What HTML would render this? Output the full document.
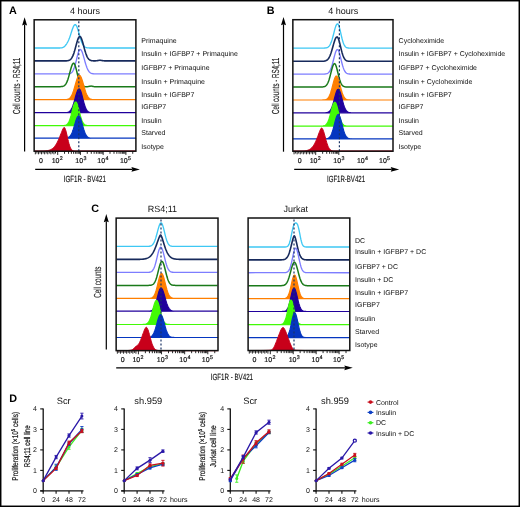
<!DOCTYPE html>
<html><head><meta charset="utf-8"><style>
html,body{margin:0;padding:0;background:#fff;}
body{width:520px;height:507px;overflow:hidden;font-family:"Liberation Sans", sans-serif;}
svg{display:block;}
</style></head><body>
<svg width="520" height="507" viewBox="0 0 520 507" style="will-change:transform" text-rendering="geometricPrecision" font-family='"Liberation Sans", sans-serif'>
<rect x="0" y="0" width="520" height="507" fill="#fff"/>
<text x="9" y="13.7" font-size="10.8" text-anchor="start" font-weight="bold" fill="#000" >A</text>
<text x="266.8" y="13.8" font-size="10.8" text-anchor="start" font-weight="bold" fill="#000" >B</text>
<text x="91.3" y="212" font-size="10.8" text-anchor="start" font-weight="bold" fill="#000" >C</text>
<text x="9.2" y="402" font-size="10.8" text-anchor="start" font-weight="bold" fill="#000" >D</text>
<text x="85" y="13.5" font-size="9" text-anchor="middle" font-weight="normal" fill="#111" >4 hours</text>
<line x1="24.6" y1="24.5" x2="24.6" y2="151.5" stroke="#000" stroke-width="1.2"/>
<path d="M24.6 17.2 L27.1 25.5 L24.6 24.5 L22.1 25.5 Z" fill="#000"/>
<line x1="35.2" y1="169.4" x2="132.4" y2="169.4" stroke="#000" stroke-width="1.2"/>
<path d="M139.9 169.4 L131.4 167 L132.4 169.4 L131.4 171.8 Z" fill="#000"/>
<text x="0" y="0" font-size="10.2" font-weight="normal" text-anchor="middle" fill="#111" stroke="#111" stroke-width="0.1" transform="translate(19.7 86) rotate(-90) scale(0.6057 1)">Cell counts - RS4;11</text>
<text x="0" y="0" font-size="9.0" font-weight="normal" text-anchor="middle" fill="#111" stroke="#111" stroke-width="0.15" transform="translate(84.8 181.8) scale(0.6859 1)">IGF1R - BV421</text>
<path d="M34.45 48 L58.95 47.98 L59.45 47.97 L59.95 47.96 L60.45 47.94 L60.95 47.9 L61.45 47.85 L61.95 47.76 L62.45 47.64 L62.95 47.47 L63.45 47.23 L63.95 46.91 L64.45 46.5 L64.95 46.01 L65.45 45.42 L65.95 44.77 L66.45 44.04 L66.95 43.25 L67.45 42.4 L67.95 41.47 L68.45 40.45 L68.95 39.32 L69.45 38.06 L69.95 36.68 L70.45 35.2 L70.95 33.63 L71.45 32.04 L71.95 30.48 L72.45 28.99 L72.95 27.65 L73.45 26.5 L73.95 25.59 L74.45 24.96 L74.95 24.64 L75.45 24.65 L75.95 25.03 L76.45 25.77 L76.95 26.83 L77.45 28.18 L77.95 29.73 L78.45 31.44 L78.95 33.24 L79.45 35.05 L79.95 36.83 L80.45 38.51 L80.95 40.08 L81.45 41.49 L81.95 42.74 L82.45 43.82 L82.95 44.73 L83.45 45.48 L83.95 46.09 L84.45 46.58 L84.95 46.96 L85.45 47.25 L85.95 47.47 L86.45 47.63 L86.95 47.75 L87.45 47.83 L87.95 47.89 L88.45 47.93 L88.95 47.95 L89.45 47.97 L89.95 47.98 L135.45 48" fill="none" stroke="#3ec8f4" stroke-width="1.35" stroke-linejoin="round"/>
<path d="M34.45 60.9 L64.95 60.88 L65.45 60.87 L65.95 60.85 L66.45 60.83 L66.95 60.79 L67.45 60.73 L67.95 60.65 L68.45 60.54 L68.95 60.38 L69.45 60.17 L69.95 59.88 L70.45 59.51 L70.95 59.02 L71.45 58.41 L71.95 57.66 L72.45 56.74 L72.95 55.65 L73.45 54.39 L73.95 52.95 L74.45 51.35 L74.95 49.61 L75.45 47.77 L75.95 45.89 L76.45 44.01 L76.95 42.2 L77.45 40.54 L77.95 39.09 L78.45 37.91 L78.95 37.07 L79.45 36.6 L79.95 36.52 L80.45 36.84 L80.95 37.53 L81.45 38.58 L81.95 39.93 L82.45 41.51 L82.95 43.27 L83.45 45.13 L83.95 47.02 L84.45 48.88 L84.95 50.67 L85.45 52.32 L85.95 53.83 L86.45 55.17 L86.95 56.33 L87.45 57.31 L87.95 58.13 L88.45 58.8 L88.95 59.33 L89.45 59.74 L89.95 60.06 L90.45 60.31 L90.95 60.48 L91.45 60.61 L91.95 60.71 L92.45 60.77 L92.95 60.81 L93.45 60.84 L93.95 60.86 L94.45 60.86 L94.95 60.86 L95.45 60.84 L95.95 60.81 L96.45 60.77 L96.95 60.7 L97.45 60.62 L97.95 60.54 L98.45 60.45 L98.95 60.37 L99.45 60.32 L99.95 60.3 L100.45 60.31 L100.95 60.36 L101.45 60.43 L101.95 60.52 L102.45 60.61 L102.95 60.69 L103.45 60.76 L103.95 60.81 L104.45 60.84 L104.95 60.87 L105.45 60.88 L135.45 60.9" fill="none" stroke="#172a5c" stroke-width="1.6" stroke-linejoin="round"/>
<path d="M34.45 73.9 L66.45 73.89 L66.95 73.88 L67.45 73.86 L67.95 73.83 L68.45 73.79 L68.95 73.73 L69.45 73.64 L69.95 73.51 L70.45 73.32 L70.95 73.05 L71.45 72.69 L71.95 72.21 L72.45 71.59 L72.95 70.79 L73.45 69.81 L73.95 68.62 L74.45 67.22 L74.95 65.61 L75.45 63.8 L75.95 61.85 L76.45 59.8 L76.95 57.72 L77.45 55.7 L77.95 53.82 L78.45 52.18 L78.95 50.86 L79.45 49.94 L79.95 49.46 L80.45 49.45 L80.95 49.81 L81.45 50.53 L81.95 51.56 L82.45 52.86 L82.95 54.39 L83.45 56.07 L83.95 57.85 L84.45 59.67 L84.95 61.47 L85.45 63.21 L85.95 64.84 L86.45 66.34 L86.95 67.68 L87.45 68.86 L87.95 69.88 L88.45 70.74 L88.95 71.45 L89.45 72.03 L89.95 72.5 L90.45 72.86 L90.95 73.14 L91.45 73.36 L91.95 73.52 L92.45 73.63 L92.95 73.72 L93.45 73.78 L93.95 73.82 L94.45 73.85 L94.95 73.86 L95.45 73.88 L95.95 73.89 L135.45 73.9" fill="none" stroke="#7d7dff" stroke-width="1.35" stroke-linejoin="round"/>
<path d="M34.45 86.7 L59.45 86.68 L59.95 86.67 L60.45 86.65 L60.95 86.62 L61.45 86.58 L61.95 86.52 L62.45 86.43 L62.95 86.3 L63.45 86.11 L63.95 85.86 L64.45 85.53 L64.95 85.09 L65.45 84.52 L65.95 83.81 L66.45 82.93 L66.95 81.88 L67.45 80.63 L67.95 79.21 L68.45 77.61 L68.95 75.86 L69.45 74.02 L69.95 72.11 L70.45 70.23 L70.95 68.42 L71.45 66.78 L71.95 65.38 L72.45 64.29 L72.95 63.55 L73.45 63.22 L73.95 63.32 L74.45 63.92 L74.95 64.98 L75.45 66.44 L75.95 68.2 L76.45 70.17 L76.95 72.25 L77.45 74.34 L77.95 76.35 L78.45 78.22 L78.95 79.9 L79.45 81.36 L79.95 82.6 L80.45 83.62 L80.95 84.44 L81.45 85.07 L81.95 85.55 L82.45 85.91 L82.95 86.17 L83.45 86.35 L83.95 86.47 L84.45 86.56 L84.95 86.61 L85.45 86.64 L85.95 86.66 L86.45 86.67 L86.95 86.66 L87.45 86.64 L87.95 86.6 L88.45 86.53 L88.95 86.43 L89.45 86.32 L89.95 86.21 L90.45 86.13 L90.95 86.1 L91.45 86.12 L91.95 86.2 L92.45 86.3 L92.95 86.41 L93.45 86.51 L93.95 86.59 L94.45 86.64 L94.95 86.67 L95.45 86.69 L135.45 86.7" fill="none" stroke="#1a7a1a" stroke-width="1.5" stroke-linejoin="round"/>
<path d="M34.45 99.7 L63.45 99.68 L63.95 99.68 L64.45 99.66 L64.95 99.64 L65.45 99.61 L65.95 99.57 L66.45 99.51 L66.95 99.42 L67.45 99.3 L67.95 99.15 L68.45 98.93 L68.95 98.66 L69.45 98.3 L69.95 97.85 L70.45 97.28 L70.95 96.59 L71.45 95.76 L71.95 94.79 L72.45 93.65 L72.95 92.36 L73.45 90.92 L73.95 89.35 L74.45 87.67 L74.95 85.92 L75.45 84.15 L75.95 82.4 L76.45 80.72 L76.95 79.18 L77.45 77.84 L77.95 76.74 L78.45 75.93 L78.95 75.44 L79.45 75.3 L79.95 75.51 L80.45 76.06 L80.95 76.93 L81.45 78.09 L81.95 79.48 L82.45 81.05 L82.95 82.74 L83.45 84.5 L83.95 86.28 L84.45 88.01 L84.95 89.67 L85.45 91.22 L85.95 92.63 L86.45 93.89 L86.95 94.99 L87.45 95.94 L87.95 96.74 L88.45 97.41 L88.95 97.95 L89.45 98.38 L89.95 98.72 L90.45 98.98 L90.95 99.18 L91.45 99.33 L91.95 99.44 L92.45 99.52 L92.95 99.58 L93.45 99.62 L93.95 99.65 L94.45 99.66 L94.95 99.68 L95.45 99.69 L135.45 99.7 L135.6 99.7 L34.45 99.7 Z" fill="#ff7f00" stroke="#ff7f00" stroke-width="1.2" stroke-linejoin="round"/>
<path d="M34.45 112.7 L63.95 112.68 L64.45 112.67 L64.95 112.66 L65.45 112.63 L65.95 112.6 L66.45 112.54 L66.95 112.47 L67.45 112.36 L67.95 112.22 L68.45 112.02 L68.95 111.76 L69.45 111.42 L69.95 110.98 L70.45 110.43 L70.95 109.74 L71.45 108.91 L71.95 107.91 L72.45 106.76 L72.95 105.44 L73.45 103.96 L73.95 102.35 L74.45 100.62 L74.95 98.84 L75.45 97.03 L75.95 95.27 L76.45 93.61 L76.95 92.11 L77.45 90.85 L77.95 89.87 L78.45 89.21 L78.95 88.92 L79.45 89.01 L79.95 89.54 L80.45 90.47 L80.95 91.77 L81.45 93.35 L81.95 95.15 L82.45 97.07 L82.95 99.05 L83.45 100.99 L83.95 102.85 L84.45 104.56 L84.95 106.1 L85.45 107.45 L85.95 108.6 L86.45 109.56 L86.95 110.34 L87.45 110.96 L87.95 111.44 L88.45 111.8 L88.95 112.07 L89.45 112.27 L89.95 112.41 L90.45 112.51 L90.95 112.58 L91.45 112.62 L91.95 112.65 L92.45 112.67 L92.95 112.68 L135.45 112.7 L135.6 112.7 L34.45 112.7 Z" fill="#20009c" stroke="#20009c" stroke-width="1.2" stroke-linejoin="round"/>
<path d="M34.45 125.6 L61.95 125.59 L62.45 125.58 L62.95 125.56 L63.45 125.54 L63.95 125.5 L64.45 125.44 L64.95 125.35 L65.45 125.22 L65.95 125.04 L66.45 124.78 L66.95 124.43 L67.45 123.97 L67.95 123.37 L68.45 122.61 L68.95 121.66 L69.45 120.51 L69.95 119.16 L70.45 117.61 L70.95 115.88 L71.45 113.99 L71.95 112.02 L72.45 110.02 L72.95 108.07 L73.45 106.26 L73.95 104.68 L74.45 103.41 L74.95 102.52 L75.45 102.06 L75.95 102.06 L76.45 102.52 L76.95 103.41 L77.45 104.68 L77.95 106.26 L78.45 108.07 L78.95 110.02 L79.45 112.02 L79.95 113.99 L80.45 115.88 L80.95 117.61 L81.45 119.16 L81.95 120.51 L82.45 121.66 L82.95 122.61 L83.45 123.37 L83.95 123.97 L84.45 124.43 L84.95 124.78 L85.45 125.04 L85.95 125.22 L86.45 125.35 L86.95 125.44 L87.45 125.5 L87.95 125.54 L88.45 125.56 L88.95 125.58 L89.45 125.59 L135.45 125.6 L135.6 125.6 L34.45 125.6 Z" fill="#42fa06" stroke="#42fa06" stroke-width="1.2" stroke-linejoin="round"/>
<path d="M34.45 138.2 L63.45 138.19 L63.95 138.18 L64.45 138.17 L64.95 138.15 L65.45 138.12 L65.95 138.07 L66.45 138.01 L66.95 137.92 L67.45 137.8 L67.95 137.63 L68.45 137.41 L68.95 137.11 L69.45 136.72 L69.95 136.23 L70.45 135.62 L70.95 134.87 L71.45 133.97 L71.95 132.91 L72.45 131.7 L72.95 130.33 L73.45 128.83 L73.95 127.22 L74.45 125.53 L74.95 123.82 L75.45 122.14 L75.95 120.55 L76.45 119.1 L76.95 117.87 L77.45 116.91 L77.95 116.25 L78.45 115.93 L78.95 115.97 L79.45 116.41 L79.95 117.21 L80.45 118.34 L80.95 119.75 L81.45 121.36 L81.95 123.1 L82.45 124.9 L82.95 126.7 L83.45 128.43 L83.95 130.04 L84.45 131.51 L84.95 132.82 L85.45 133.94 L85.95 134.89 L86.45 135.67 L86.95 136.31 L87.45 136.81 L87.95 137.19 L88.45 137.48 L88.95 137.7 L89.45 137.86 L89.95 137.97 L90.45 138.05 L90.95 138.1 L91.45 138.14 L91.95 138.16 L92.45 138.18 L92.95 138.19 L135.45 138.2 L135.6 138.2 L34.45 138.2 Z" fill="#0536c0" stroke="#0536c0" stroke-width="1.2" stroke-linejoin="round"/>
<path d="M34.45 151.2 L38.45 151.18 L38.95 151.18 L39.45 151.17 L39.95 151.17 L40.45 151.16 L40.95 151.15 L41.45 151.14 L41.95 151.12 L42.45 151.11 L42.95 151.09 L43.45 151.07 L43.95 151.04 L44.45 151.01 L44.95 150.97 L45.45 150.92 L45.95 150.87 L46.45 150.8 L46.95 150.73 L47.45 150.64 L47.95 150.54 L48.45 150.42 L48.95 150.28 L49.45 150.12 L49.95 149.94 L50.45 149.73 L50.95 149.49 L51.45 149.22 L51.95 148.91 L52.45 148.55 L52.95 148.16 L53.45 147.71 L53.95 147.21 L54.45 146.66 L54.95 146.04 L55.45 145.36 L55.95 144.62 L56.45 143.8 L56.95 142.92 L57.45 141.97 L57.95 140.95 L58.45 139.87 L58.95 138.72 L59.45 137.52 L59.95 136.28 L60.45 135.01 L60.95 133.72 L61.45 132.45 L61.95 131.2 L62.45 130.03 L62.95 128.97 L63.45 128.08 L63.95 127.48 L64.45 127.54 L64.95 128.21 L65.45 129.39 L65.95 131.01 L66.45 132.94 L66.95 135.08 L67.45 137.31 L67.95 139.52 L68.45 141.6 L68.95 143.51 L69.45 145.18 L69.95 146.6 L70.45 147.76 L70.95 148.7 L71.45 149.42 L71.95 149.96 L72.45 150.36 L72.95 150.65 L73.45 150.84 L73.95 150.97 L74.45 151.06 L74.95 151.12 L75.45 151.15 L75.95 151.17 L76.45 151.18 L135.45 151.2 L135.6 151.2 L34.45 151.2 Z" fill="#c8001a" stroke="#c8001a" stroke-width="1.0" stroke-linejoin="round"/>
<line x1="78.8" y1="21.3" x2="78.8" y2="151.2" stroke="#1b3466" stroke-width="1.2" stroke-dasharray="2 2"/>
<rect x="34.15" y="19.8" width="101.75" height="131.4" fill="none" stroke="#111" stroke-width="1.5"/>
<text x="141.3" y="43.2" font-size="7" text-anchor="start" font-weight="normal" fill="#111" >Primaquine</text>
<text x="141.3" y="55.9" font-size="7" text-anchor="start" font-weight="normal" fill="#111" >Insulin + IGFBP7 + Primaquine</text>
<text x="141.3" y="70.3" font-size="7" text-anchor="start" font-weight="normal" fill="#111" >IGFBP7 + Primaquine</text>
<text x="141.3" y="83.8" font-size="7" text-anchor="start" font-weight="normal" fill="#111" >Insulin + Primaquine</text>
<text x="141.3" y="96.7" font-size="7" text-anchor="start" font-weight="normal" fill="#111" >Insulin + IGFBP7</text>
<text x="141.3" y="109.3" font-size="7" text-anchor="start" font-weight="normal" fill="#111" >IGFBP7</text>
<text x="141.3" y="123" font-size="7" text-anchor="start" font-weight="normal" fill="#111" >Insulin</text>
<text x="141.3" y="135.4" font-size="7" text-anchor="start" font-weight="normal" fill="#111" >Starved</text>
<text x="141.3" y="148.8" font-size="7" text-anchor="start" font-weight="normal" fill="#111" >Isotype</text>
<path d="M35.35 151.7V154.3M36.9 151.7V153.5M38.45 151.7V154.3M40 151.7V153.5M41.55 151.7V154.3M43.1 151.7V153.5M44.65 151.7V154.3M46.2 151.7V153.5M47.75 151.7V154.3M49.3 151.7V153.5M50.85 151.7V154.3M52.4 151.7V153.5M53.95 151.7V154.3M55.5 151.7V153.5M57.7 151.7V154.9M64.54 151.7V153.8M68.55 151.7V153.8M71.39 151.7V153.8M73.59 151.7V153.8M75.39 151.7V153.8M76.91 151.7V153.8M78.23 151.7V153.8M79.39 151.7V153.8M80.43 151.7V154.9M87.28 151.7V153.8M91.28 151.7V153.8M94.12 151.7V153.8M96.32 151.7V153.8M98.12 151.7V153.8M99.65 151.7V153.8M100.96 151.7V153.8M102.13 151.7V153.8M103.17 151.7V154.9M110.01 151.7V153.8M114.01 151.7V153.8M116.85 151.7V153.8M119.06 151.7V153.8M120.86 151.7V153.8M122.38 151.7V153.8M123.7 151.7V153.8M124.86 151.7V153.8M125.9 151.7V154.9M132.74 151.7V153.8" stroke="#000" stroke-width="0.85" fill="none"/>
<text x="41" y="162.9" font-size="7.0" text-anchor="middle" font-weight="normal" fill="#111" stroke="#111" stroke-width="0.2">0</text>
<text x="51.7" y="162.9" font-size="7.0" fill="#111" stroke="#111" stroke-width="0.2">10<tspan font-size="5.3" dx="0.3" dy="-2.9">2</tspan></text>
<text x="75.3" y="162.9" font-size="7.0" fill="#111" stroke="#111" stroke-width="0.2">10<tspan font-size="5.3" dx="0.3" dy="-2.9">3</tspan></text>
<text x="97.3" y="162.9" font-size="7.0" fill="#111" stroke="#111" stroke-width="0.2">10<tspan font-size="5.3" dx="0.3" dy="-2.9">4</tspan></text>
<text x="119.9" y="162.9" font-size="7.0" fill="#111" stroke="#111" stroke-width="0.2">10<tspan font-size="5.3" dx="0.3" dy="-2.9">5</tspan></text>
<text x="343.2" y="13.5" font-size="9" text-anchor="middle" font-weight="normal" fill="#111" >4 hours</text>
<line x1="283.5" y1="24.2" x2="283.5" y2="151.7" stroke="#000" stroke-width="1.2"/>
<path d="M283.5 16.9 L286 25.2 L283.5 24.2 L281 25.2 Z" fill="#000"/>
<line x1="294.2" y1="169.4" x2="391.7" y2="169.4" stroke="#000" stroke-width="1.2"/>
<path d="M399.2 169.4 L390.7 167 L391.7 169.4 L390.7 171.8 Z" fill="#000"/>
<text x="0" y="0" font-size="10.2" font-weight="normal" text-anchor="middle" fill="#111" stroke="#111" stroke-width="0.1" transform="translate(278.6 86) rotate(-90) scale(0.6057 1)">Cell counts - RS4;11</text>
<text x="0" y="0" font-size="9.0" font-weight="normal" text-anchor="middle" fill="#111" stroke="#111" stroke-width="0.15" transform="translate(346 182) scale(0.6723 1)">IGF1R-BV421</text>
<path d="M293.15 48.1 L323.15 48.08 L323.65 48.07 L324.15 48.06 L324.65 48.03 L325.15 48 L325.65 47.94 L326.15 47.86 L326.65 47.74 L327.15 47.58 L327.65 47.35 L328.15 47.04 L328.65 46.63 L329.15 46.1 L329.65 45.42 L330.15 44.59 L330.65 43.57 L331.15 42.36 L331.65 40.96 L332.15 39.38 L332.65 37.63 L333.15 35.76 L333.65 33.81 L334.15 31.84 L334.65 29.93 L335.15 28.16 L335.65 26.6 L336.15 25.33 L336.65 24.42 L337.15 23.91 L337.65 23.82 L338.15 24.26 L338.65 25.22 L339.15 26.64 L339.65 28.42 L340.15 30.46 L340.65 32.64 L341.15 34.86 L341.65 37.01 L342.15 39.03 L342.65 40.84 L343.15 42.43 L343.65 43.76 L344.15 44.86 L344.65 45.74 L345.15 46.41 L345.65 46.92 L346.15 47.3 L346.65 47.56 L347.15 47.75 L347.65 47.88 L348.15 47.96 L348.65 48.02 L349.15 48.05 L349.65 48.07 L350.15 48.08 L392.65 48.1" fill="none" stroke="#3ec8f4" stroke-width="1.35" stroke-linejoin="round"/>
<path d="M293.15 61.3 L321.15 61.29 L321.65 61.28 L322.15 61.27 L322.65 61.25 L323.15 61.22 L323.65 61.19 L324.15 61.13 L324.65 61.05 L325.15 60.94 L325.65 60.79 L326.15 60.59 L326.65 60.33 L327.15 59.98 L327.65 59.54 L328.15 58.99 L328.65 58.3 L329.15 57.48 L329.65 56.5 L330.15 55.35 L330.65 54.05 L331.15 52.59 L331.65 50.99 L332.15 49.28 L332.65 47.49 L333.15 45.68 L333.65 43.89 L334.15 42.19 L334.65 40.64 L335.15 39.29 L335.65 38.2 L336.15 37.42 L336.65 36.99 L337.15 36.92 L337.65 37.31 L338.15 38.16 L338.65 39.43 L339.15 41.04 L339.65 42.91 L340.15 44.93 L340.65 47.03 L341.15 49.1 L341.65 51.08 L342.15 52.91 L342.65 54.55 L343.15 55.98 L343.65 57.18 L344.15 58.18 L344.65 58.99 L345.15 59.62 L345.65 60.1 L346.15 60.46 L346.65 60.72 L347.15 60.91 L347.65 61.05 L348.15 61.14 L348.65 61.2 L349.15 61.24 L349.65 61.26 L350.15 61.28 L350.65 61.29 L392.65 61.3" fill="none" stroke="#172a5c" stroke-width="1.6" stroke-linejoin="round"/>
<path d="M293.15 74.1 L323.15 74.08 L323.65 74.07 L324.15 74.05 L324.65 74.03 L325.15 73.99 L325.65 73.92 L326.15 73.84 L326.65 73.71 L327.15 73.53 L327.65 73.28 L328.15 72.95 L328.65 72.51 L329.15 71.95 L329.65 71.24 L330.15 70.35 L330.65 69.29 L331.15 68.02 L331.65 66.57 L332.15 64.93 L332.65 63.13 L333.15 61.22 L333.65 59.23 L334.15 57.25 L334.65 55.34 L335.15 53.58 L335.65 52.05 L336.15 50.84 L336.65 49.99 L337.15 49.55 L337.65 49.56 L338.15 50.04 L338.65 50.96 L339.15 52.29 L339.65 53.94 L340.15 55.82 L340.65 57.86 L341.15 59.94 L341.65 62 L342.15 63.96 L342.65 65.77 L343.15 67.39 L343.65 68.8 L344.15 69.99 L344.65 70.98 L345.15 71.78 L345.65 72.4 L346.15 72.89 L346.65 73.25 L347.15 73.51 L347.65 73.7 L348.15 73.84 L348.65 73.93 L349.15 73.99 L349.65 74.03 L350.15 74.06 L350.65 74.08 L351.15 74.09 L392.65 74.1" fill="none" stroke="#7d7dff" stroke-width="1.35" stroke-linejoin="round"/>
<path d="M293.15 87 L320.65 86.99 L321.15 86.98 L321.65 86.96 L322.15 86.94 L322.65 86.91 L323.15 86.85 L323.65 86.77 L324.15 86.65 L324.65 86.48 L325.15 86.25 L325.65 85.92 L326.15 85.49 L326.65 84.92 L327.15 84.2 L327.65 83.3 L328.15 82.2 L328.65 80.9 L329.15 79.4 L329.65 77.71 L330.15 75.88 L330.65 73.93 L331.15 71.94 L331.65 69.99 L332.15 68.16 L332.65 66.54 L333.15 65.22 L333.65 64.25 L334.15 63.71 L334.65 63.62 L335.15 64.02 L335.65 64.9 L336.15 66.2 L336.65 67.85 L337.15 69.74 L337.65 71.78 L338.15 73.86 L338.65 75.9 L339.15 77.83 L339.65 79.58 L340.15 81.13 L340.65 82.45 L341.15 83.55 L341.65 84.45 L342.15 85.15 L342.65 85.68 L343.15 86.08 L343.65 86.38 L344.15 86.59 L344.65 86.73 L345.15 86.83 L345.65 86.89 L346.15 86.93 L346.65 86.96 L347.15 86.98 L347.65 86.99 L392.65 87" fill="none" stroke="#1a7a1a" stroke-width="1.5" stroke-linejoin="round"/>
<path d="M293.15 100 L322.15 99.98 L322.65 99.97 L323.15 99.96 L323.65 99.93 L324.15 99.89 L324.65 99.83 L325.15 99.74 L325.65 99.62 L326.15 99.44 L326.65 99.2 L327.15 98.88 L327.65 98.45 L328.15 97.9 L328.65 97.21 L329.15 96.34 L329.65 95.3 L330.15 94.07 L330.65 92.65 L331.15 91.05 L331.65 89.3 L332.15 87.43 L332.65 85.49 L333.15 83.56 L333.65 81.69 L334.15 79.98 L334.65 78.49 L335.15 77.31 L335.65 76.48 L336.15 76.05 L336.65 76.05 L337.15 76.48 L337.65 77.31 L338.15 78.49 L338.65 79.98 L339.15 81.69 L339.65 83.56 L340.15 85.49 L340.65 87.43 L341.15 89.3 L341.65 91.05 L342.15 92.65 L342.65 94.07 L343.15 95.3 L343.65 96.34 L344.15 97.21 L344.65 97.9 L345.15 98.45 L345.65 98.88 L346.15 99.2 L346.65 99.44 L347.15 99.62 L347.65 99.74 L348.15 99.83 L348.65 99.89 L349.15 99.93 L349.65 99.96 L350.15 99.97 L350.65 99.98 L392.65 100 L392.7 100 L293.15 100 Z" fill="#ff7f00" stroke="#ff7f00" stroke-width="1.2" stroke-linejoin="round"/>
<path d="M293.15 112.8 L323.65 112.79 L324.15 112.78 L324.65 112.77 L325.15 112.75 L325.65 112.72 L326.15 112.67 L326.65 112.6 L327.15 112.5 L327.65 112.36 L328.15 112.17 L328.65 111.9 L329.15 111.54 L329.65 111.08 L330.15 110.48 L330.65 109.73 L331.15 108.82 L331.65 107.72 L332.15 106.44 L332.65 104.97 L333.15 103.33 L333.65 101.55 L334.15 99.68 L334.65 97.77 L335.15 95.89 L335.65 94.1 L336.15 92.5 L336.65 91.15 L337.15 90.11 L337.65 89.45 L338.15 89.2 L338.65 89.37 L339.15 89.95 L339.65 90.91 L340.15 92.2 L340.65 93.76 L341.15 95.52 L341.65 97.39 L342.15 99.3 L342.65 101.19 L343.15 102.98 L343.65 104.65 L344.15 106.16 L344.65 107.48 L345.15 108.61 L345.65 109.56 L346.15 110.34 L346.65 110.97 L347.15 111.46 L347.65 111.84 L348.15 112.12 L348.65 112.33 L349.15 112.48 L349.65 112.58 L350.15 112.66 L350.65 112.71 L351.15 112.74 L351.65 112.76 L352.15 112.78 L352.65 112.79 L392.65 112.8 L392.7 112.8 L293.15 112.8 Z" fill="#20009c" stroke="#20009c" stroke-width="1.2" stroke-linejoin="round"/>
<path d="M293.15 126.1 L320.65 126.08 L321.15 126.07 L321.65 126.05 L322.15 126.02 L322.65 125.98 L323.15 125.91 L323.65 125.82 L324.15 125.69 L324.65 125.5 L325.15 125.25 L325.65 124.91 L326.15 124.46 L326.65 123.88 L327.15 123.16 L327.65 122.27 L328.15 121.19 L328.65 119.93 L329.15 118.48 L329.65 116.85 L330.15 115.08 L330.65 113.2 L331.15 111.27 L331.65 109.35 L332.15 107.51 L332.65 105.85 L333.15 104.42 L333.65 103.31 L334.15 102.56 L334.65 102.22 L335.15 102.31 L335.65 102.87 L336.15 103.85 L336.65 105.21 L337.15 106.86 L337.65 108.73 L338.15 110.72 L338.65 112.75 L339.15 114.74 L339.65 116.62 L340.15 118.34 L340.65 119.87 L341.15 121.2 L341.65 122.32 L342.15 123.24 L342.65 123.98 L343.15 124.56 L343.65 125 L344.15 125.33 L344.65 125.57 L345.15 125.74 L345.65 125.87 L346.15 125.95 L346.65 126 L347.15 126.04 L347.65 126.06 L348.15 126.08 L348.65 126.09 L392.65 126.1 L392.7 126.1 L293.15 126.1 Z" fill="#42fa06" stroke="#42fa06" stroke-width="1.2" stroke-linejoin="round"/>
<path d="M293.15 138.9 L323.65 138.89 L324.15 138.88 L324.65 138.87 L325.15 138.85 L325.65 138.81 L326.15 138.77 L326.65 138.69 L327.15 138.59 L327.65 138.45 L328.15 138.24 L328.65 137.97 L329.15 137.6 L329.65 137.12 L330.15 136.5 L330.65 135.73 L331.15 134.78 L331.65 133.65 L332.15 132.32 L332.65 130.8 L333.15 129.11 L333.65 127.27 L334.15 125.34 L334.65 123.36 L335.15 121.41 L335.65 119.57 L336.15 117.91 L336.65 116.51 L337.15 115.44 L337.65 114.76 L338.15 114.5 L338.65 114.68 L339.15 115.28 L339.65 116.27 L340.15 117.61 L340.65 119.22 L341.15 121.03 L341.65 122.97 L342.15 124.94 L342.65 126.89 L343.15 128.75 L343.65 130.48 L344.15 132.03 L344.65 133.4 L345.15 134.57 L345.65 135.56 L346.15 136.36 L346.65 137.01 L347.15 137.51 L347.65 137.9 L348.15 138.2 L348.65 138.41 L349.15 138.57 L349.65 138.68 L350.15 138.75 L350.65 138.81 L351.15 138.84 L351.65 138.86 L352.15 138.88 L352.65 138.89 L392.65 138.9 L392.7 138.9 L293.15 138.9 Z" fill="#0536c0" stroke="#0536c0" stroke-width="1.2" stroke-linejoin="round"/>
<path d="M293.15 151.2 L297.65 151.18 L298.15 151.18 L298.65 151.17 L299.15 151.17 L299.65 151.16 L300.15 151.15 L300.65 151.14 L301.15 151.12 L301.65 151.1 L302.15 151.08 L302.65 151.05 L303.15 151.02 L303.65 150.98 L304.15 150.94 L304.65 150.88 L305.15 150.82 L305.65 150.74 L306.15 150.64 L306.65 150.53 L307.15 150.4 L307.65 150.25 L308.15 150.07 L308.65 149.87 L309.15 149.63 L309.65 149.35 L310.15 149.03 L310.65 148.67 L311.15 148.26 L311.65 147.79 L312.15 147.26 L312.65 146.66 L313.15 146 L313.65 145.27 L314.15 144.46 L314.65 143.57 L315.15 142.6 L315.65 141.55 L316.15 140.43 L316.65 139.24 L317.15 137.98 L317.65 136.68 L318.15 135.34 L318.65 133.98 L319.15 132.64 L319.65 131.35 L320.15 130.15 L320.65 129.1 L321.15 128.3 L321.65 128.02 L322.15 128.35 L322.65 129.07 L323.15 130.15 L323.65 131.54 L324.15 133.16 L324.65 134.94 L325.15 136.8 L325.65 138.68 L326.15 140.5 L326.65 142.22 L327.15 143.8 L327.65 145.21 L328.15 146.44 L328.65 147.48 L329.15 148.35 L329.65 149.05 L330.15 149.61 L330.65 150.04 L331.15 150.37 L331.65 150.62 L332.15 150.8 L332.65 150.93 L333.15 151.02 L333.65 151.08 L334.15 151.12 L334.65 151.15 L335.15 151.17 L335.65 151.18 L392.65 151.2 L392.7 151.2 L293.15 151.2 Z" fill="#c8001a" stroke="#c8001a" stroke-width="1.0" stroke-linejoin="round"/>
<line x1="339.4" y1="21.2" x2="339.4" y2="151.2" stroke="#1b3466" stroke-width="1.2" stroke-dasharray="2 2"/>
<rect x="292.85" y="19.7" width="100.15" height="131.5" fill="none" stroke="#111" stroke-width="1.5"/>
<text x="398.6" y="43.2" font-size="7" text-anchor="start" font-weight="normal" fill="#111" >Cycloheximide</text>
<text x="398.6" y="55.9" font-size="7" text-anchor="start" font-weight="normal" fill="#111" >Insulin + IGFBP7 + Cycloheximide</text>
<text x="398.6" y="70.3" font-size="7" text-anchor="start" font-weight="normal" fill="#111" >IGFBP7 + Cycloheximide</text>
<text x="398.6" y="83.8" font-size="7" text-anchor="start" font-weight="normal" fill="#111" >Insulin + Cycloheximide</text>
<text x="398.6" y="96.7" font-size="7" text-anchor="start" font-weight="normal" fill="#111" >Insulin + IGFBP7</text>
<text x="398.6" y="109.3" font-size="7" text-anchor="start" font-weight="normal" fill="#111" >IGFBP7</text>
<text x="398.6" y="123" font-size="7" text-anchor="start" font-weight="normal" fill="#111" >Insulin</text>
<text x="398.6" y="135.4" font-size="7" text-anchor="start" font-weight="normal" fill="#111" >Starved</text>
<text x="398.6" y="148.8" font-size="7" text-anchor="start" font-weight="normal" fill="#111" >Isotype</text>
<path d="M294.05 151.7V154.3M295.6 151.7V153.5M297.15 151.7V154.3M298.7 151.7V153.5M300.25 151.7V154.3M301.8 151.7V153.5M303.35 151.7V154.3M304.9 151.7V153.5M306.45 151.7V154.3M308 151.7V153.5M309.55 151.7V154.3M311.1 151.7V153.5M312.65 151.7V154.3M314.2 151.7V153.5M315.7 151.7V154.9M322.65 151.7V153.8M326.72 151.7V153.8M329.61 151.7V153.8M331.85 151.7V153.8M333.68 151.7V153.8M335.22 151.7V153.8M336.56 151.7V153.8M337.74 151.7V153.8M338.8 151.7V154.9" stroke="#000" stroke-width="0.85" fill="none"/>
<text x="299.6" y="162.9" font-size="7.0" text-anchor="middle" font-weight="normal" fill="#111" stroke="#111" stroke-width="0.2">0</text>
<text x="309.7" y="162.9" font-size="7.0" fill="#111" stroke="#111" stroke-width="0.2">10<tspan font-size="5.3" dx="0.3" dy="-2.9">2</tspan></text>
<text x="333.3" y="162.9" font-size="7.0" fill="#111" stroke="#111" stroke-width="0.2">10<tspan font-size="5.3" dx="0.3" dy="-2.9">3</tspan></text>
<text x="356.9" y="162.9" font-size="7.0" fill="#111" stroke="#111" stroke-width="0.2">10<tspan font-size="5.3" dx="0.3" dy="-2.9">4</tspan></text>
<text x="379" y="162.9" font-size="7.0" fill="#111" stroke="#111" stroke-width="0.2">10<tspan font-size="5.3" dx="0.3" dy="-2.9">5</tspan></text>
<text x="162.4" y="211.8" font-size="9" text-anchor="middle" font-weight="normal" fill="#111" >RS4;11</text>
<text x="295.8" y="211.6" font-size="9" text-anchor="middle" font-weight="normal" fill="#111" >Jurkat</text>
<line x1="106.3" y1="221.2" x2="106.3" y2="349.5" stroke="#000" stroke-width="1.2"/>
<path d="M106.3 213.9 L108.8 222.2 L106.3 221.2 L103.8 222.2 Z" fill="#000"/>
<line x1="116.2" y1="367.8" x2="345.3" y2="367.8" stroke="#000" stroke-width="1.2"/>
<path d="M352.8 367.8 L344.3 365.4 L345.3 367.8 L344.3 370.2 Z" fill="#000"/>
<text x="0" y="0" font-size="10.2" font-weight="normal" text-anchor="middle" fill="#111" stroke="#111" stroke-width="0.1" transform="translate(100.9 282.2) rotate(-90) scale(0.6204 1)">Cell counts</text>
<text x="0" y="0" font-size="9.0" font-weight="normal" text-anchor="middle" fill="#111" stroke="#111" stroke-width="0.15" transform="translate(231.9 380) scale(0.6859 1)">IGF1R - BV421</text>
<path d="M116.45 246.4 L146.95 246.38 L147.45 246.37 L147.95 246.35 L148.45 246.32 L148.95 246.28 L149.45 246.22 L149.95 246.13 L150.45 246 L150.95 245.81 L151.45 245.56 L151.95 245.23 L152.45 244.79 L152.95 244.22 L153.45 243.51 L153.95 242.63 L154.45 241.58 L154.95 240.33 L155.45 238.91 L155.95 237.31 L156.45 235.56 L156.95 233.72 L157.45 231.81 L157.95 229.93 L158.45 228.12 L158.95 226.48 L159.45 225.08 L159.95 223.99 L160.45 223.25 L160.95 222.92 L161.45 223.02 L161.95 223.62 L162.45 224.68 L162.95 226.14 L163.45 227.9 L163.95 229.87 L164.45 231.95 L164.95 234.04 L165.45 236.05 L165.95 237.92 L166.45 239.6 L166.95 241.06 L167.45 242.3 L167.95 243.32 L168.45 244.14 L168.95 244.77 L169.45 245.25 L169.95 245.61 L170.45 245.87 L170.95 246.05 L171.45 246.17 L171.95 246.26 L172.45 246.31 L172.95 246.35 L173.45 246.37 L173.95 246.38 L217.45 246.4" fill="none" stroke="#3ec8f4" stroke-width="1.35" stroke-linejoin="round"/>
<path d="M116.45 259.4 L136.95 259.38 L137.45 259.38 L137.95 259.37 L138.45 259.36 L138.95 259.35 L139.45 259.34 L139.95 259.33 L140.45 259.31 L140.95 259.29 L141.45 259.26 L141.95 259.23 L142.45 259.2 L142.95 259.15 L143.45 259.1 L143.95 259.04 L144.45 258.96 L144.95 258.87 L145.45 258.77 L145.95 258.64 L146.45 258.5 L146.95 258.33 L147.45 258.13 L147.95 257.89 L148.45 257.63 L148.95 257.32 L149.45 256.96 L149.95 256.56 L150.45 256.1 L150.95 255.58 L151.45 255 L151.95 254.34 L152.45 253.61 L152.95 252.8 L153.45 251.91 L153.95 250.94 L154.45 249.88 L154.95 248.74 L155.45 247.53 L155.95 246.24 L156.45 244.89 L156.95 243.5 L157.45 242.08 L157.95 240.65 L158.45 239.25 L158.95 237.92 L159.45 236.7 L159.95 235.68 L160.45 234.99 L160.95 235.28 L161.45 236.3 L161.95 237.62 L162.45 239.12 L162.95 240.71 L163.45 242.33 L163.95 243.94 L164.45 245.51 L164.95 247 L165.45 248.42 L165.95 249.73 L166.45 250.93 L166.95 252.03 L167.45 253.03 L167.95 253.91 L168.45 254.7 L168.95 255.4 L169.45 256.01 L169.95 256.54 L170.45 257 L170.95 257.39 L171.45 257.73 L171.95 258.01 L172.45 258.26 L172.95 258.46 L173.45 258.63 L173.95 258.77 L174.45 258.89 L174.95 258.99 L175.45 259.07 L175.95 259.13 L176.45 259.19 L176.95 259.23 L177.45 259.26 L177.95 259.29 L178.45 259.31 L178.95 259.33 L179.45 259.35 L179.95 259.36 L180.45 259.37 L180.95 259.38 L181.45 259.38 L217.45 259.4" fill="none" stroke="#172a5c" stroke-width="1.6" stroke-linejoin="round"/>
<path d="M116.45 272.4 L146.95 272.39 L147.45 272.37 L147.95 272.36 L148.45 272.33 L148.95 272.29 L149.45 272.23 L149.95 272.13 L150.45 271.99 L150.95 271.8 L151.45 271.53 L151.95 271.16 L152.45 270.66 L152.95 270.02 L153.45 269.21 L153.95 268.19 L154.45 266.97 L154.95 265.53 L155.45 263.87 L155.95 262.02 L156.45 260.01 L156.95 257.9 L157.45 255.76 L157.95 253.68 L158.45 251.75 L158.95 250.06 L159.45 248.7 L159.95 247.75 L160.45 247.26 L160.95 247.26 L161.45 247.7 L161.95 248.57 L162.45 249.82 L162.95 251.38 L163.45 253.18 L163.95 255.14 L164.45 257.17 L164.95 259.2 L165.45 261.16 L165.95 263.01 L166.45 264.69 L166.95 266.18 L167.45 267.47 L167.95 268.56 L168.45 269.47 L168.95 270.2 L169.45 270.77 L169.95 271.22 L170.45 271.56 L170.95 271.81 L171.45 272 L171.95 272.13 L172.45 272.22 L172.95 272.28 L173.45 272.33 L173.95 272.35 L174.45 272.37 L174.95 272.38 L217.45 272.4" fill="none" stroke="#7d7dff" stroke-width="1.35" stroke-linejoin="round"/>
<path d="M116.45 285.4 L148.45 285.38 L148.95 285.37 L149.45 285.35 L149.95 285.31 L150.45 285.26 L150.95 285.18 L151.45 285.07 L151.95 284.91 L152.45 284.68 L152.95 284.37 L153.45 283.95 L153.95 283.4 L154.45 282.69 L154.95 281.8 L155.45 280.72 L155.95 279.43 L156.45 277.93 L156.95 276.24 L157.45 274.38 L157.95 272.4 L158.45 270.37 L158.95 268.35 L159.45 266.44 L159.95 264.73 L160.45 263.3 L160.95 262.24 L161.45 261.59 L161.95 261.4 L162.45 261.68 L162.95 262.42 L163.45 263.56 L163.95 265.05 L164.45 266.81 L164.95 268.75 L165.45 270.77 L165.95 272.8 L166.45 274.76 L166.95 276.59 L167.45 278.25 L167.95 279.7 L168.45 280.95 L168.95 282 L169.45 282.84 L169.95 283.52 L170.45 284.04 L170.95 284.44 L171.45 284.73 L171.95 284.95 L172.45 285.1 L172.95 285.2 L173.45 285.27 L173.95 285.32 L174.45 285.35 L174.95 285.37 L175.45 285.38 L217.45 285.4" fill="none" stroke="#1a7a1a" stroke-width="1.5" stroke-linejoin="round"/>
<path d="M116.45 298.4 L147.95 298.38 L148.45 298.37 L148.95 298.35 L149.45 298.32 L149.95 298.27 L150.45 298.19 L150.95 298.08 L151.45 297.93 L151.95 297.71 L152.45 297.4 L152.95 296.99 L153.45 296.44 L153.95 295.74 L154.45 294.85 L154.95 293.77 L155.45 292.47 L155.95 290.95 L156.45 289.22 L156.95 287.32 L157.45 285.28 L157.95 283.16 L158.45 281.05 L158.95 279.04 L159.45 277.21 L159.95 275.65 L160.45 274.46 L160.95 273.7 L161.45 273.4 L161.95 273.58 L162.45 274.19 L162.95 275.21 L163.45 276.58 L163.95 278.23 L164.45 280.09 L164.95 282.07 L165.45 284.1 L165.95 286.1 L166.45 288 L166.95 289.77 L167.45 291.36 L167.95 292.76 L168.45 293.97 L168.95 294.97 L169.45 295.8 L169.95 296.46 L170.45 296.98 L170.95 297.38 L171.45 297.68 L171.95 297.9 L172.45 298.06 L172.95 298.17 L173.45 298.25 L173.95 298.3 L174.45 298.34 L174.95 298.36 L175.45 298.38 L175.95 298.39 L217.45 298.4 L217.7 298.4 L116.45 298.4 Z" fill="#ff7f00" stroke="#ff7f00" stroke-width="1.2" stroke-linejoin="round"/>
<path d="M116.45 311.2 L147.45 311.18 L147.95 311.17 L148.45 311.15 L148.95 311.12 L149.45 311.08 L149.95 311.01 L150.45 310.91 L150.95 310.76 L151.45 310.56 L151.95 310.27 L152.45 309.89 L152.95 309.38 L153.45 308.73 L153.95 307.91 L154.45 306.9 L154.95 305.69 L155.45 304.28 L155.95 302.68 L156.45 300.92 L156.95 299.02 L157.45 297.06 L157.95 295.1 L158.45 293.23 L158.95 291.53 L159.45 290.09 L159.95 288.98 L160.45 288.27 L160.95 288 L161.45 288.15 L161.95 288.68 L162.45 289.54 L162.95 290.72 L163.45 292.14 L163.95 293.75 L164.45 295.49 L164.95 297.28 L165.45 299.07 L165.95 300.8 L166.45 302.43 L166.95 303.92 L167.45 305.26 L167.95 306.43 L168.45 307.43 L168.95 308.27 L169.45 308.96 L169.95 309.52 L170.45 309.96 L170.95 310.29 L171.45 310.55 L171.95 310.74 L172.45 310.88 L172.95 310.98 L173.45 311.06 L173.95 311.1 L174.45 311.14 L174.95 311.16 L175.45 311.18 L175.95 311.18 L217.45 311.2 L217.7 311.2 L116.45 311.2 Z" fill="#20009c" stroke="#20009c" stroke-width="1.2" stroke-linejoin="round"/>
<path d="M116.45 324.5 L141.95 324.49 L142.45 324.48 L142.95 324.47 L143.45 324.45 L143.95 324.41 L144.45 324.37 L144.95 324.3 L145.45 324.2 L145.95 324.05 L146.45 323.85 L146.95 323.58 L147.45 323.22 L147.95 322.74 L148.45 322.13 L148.95 321.37 L149.45 320.43 L149.95 319.31 L150.45 318 L150.95 316.5 L151.45 314.83 L151.95 313.02 L152.45 311.1 L152.95 309.15 L153.45 307.23 L153.95 305.41 L154.45 303.77 L154.95 302.39 L155.45 301.33 L155.95 300.66 L156.45 300.4 L156.95 300.59 L157.45 301.24 L157.95 302.31 L158.45 303.74 L158.95 305.46 L159.45 307.38 L159.95 309.4 L160.45 311.45 L160.95 313.43 L161.45 315.3 L161.95 317 L162.45 318.5 L162.95 319.8 L163.45 320.89 L163.95 321.78 L164.45 322.49 L164.95 323.04 L165.45 323.46 L165.95 323.78 L166.45 324.01 L166.95 324.17 L167.45 324.28 L167.95 324.36 L168.45 324.41 L168.95 324.45 L169.45 324.47 L169.95 324.48 L217.45 324.5 L217.7 324.5 L116.45 324.5 Z" fill="#42fa06" stroke="#42fa06" stroke-width="1.2" stroke-linejoin="round"/>
<path d="M116.45 337.5 L146.45 337.48 L146.95 337.47 L147.45 337.45 L147.95 337.43 L148.45 337.38 L148.95 337.32 L149.45 337.23 L149.95 337.11 L150.45 336.93 L150.95 336.68 L151.45 336.36 L151.95 335.93 L152.45 335.38 L152.95 334.68 L153.45 333.83 L153.95 332.8 L154.45 331.59 L154.95 330.2 L155.45 328.64 L155.95 326.94 L156.45 325.14 L156.95 323.29 L157.45 321.45 L157.95 319.69 L158.45 318.09 L158.95 316.73 L159.45 315.66 L159.95 314.94 L160.45 314.62 L160.95 314.7 L161.45 315.18 L161.95 316.05 L162.45 317.24 L162.95 318.71 L163.45 320.38 L163.95 322.18 L164.45 324.03 L164.95 325.87 L165.45 327.64 L165.95 329.28 L166.45 330.77 L166.95 332.09 L167.45 333.23 L167.95 334.19 L168.45 334.98 L168.95 335.61 L169.45 336.11 L169.95 336.5 L170.45 336.79 L170.95 337.01 L171.45 337.16 L171.95 337.27 L172.45 337.35 L172.95 337.4 L173.45 337.44 L173.95 337.46 L174.45 337.48 L174.95 337.49 L217.45 337.5 L217.7 337.5 L116.45 337.5 Z" fill="#0536c0" stroke="#0536c0" stroke-width="1.2" stroke-linejoin="round"/>
<path d="M116.45 350.6 L123.95 350.58 L124.45 350.58 L124.95 350.57 L125.45 350.57 L125.95 350.56 L126.45 350.54 L126.95 350.53 L127.45 350.51 L127.95 350.49 L128.45 350.46 L128.95 350.42 L129.45 350.37 L129.95 350.32 L130.45 350.24 L130.95 350.14 L131.45 350.01 L131.95 349.82 L132.45 349.56 L132.95 349.21 L133.45 348.77 L133.95 348.25 L134.45 347.71 L134.95 347.18 L135.45 346.72 L135.95 346.34 L136.45 346.03 L136.95 345.72 L137.45 345.36 L137.95 344.89 L138.45 344.28 L138.95 343.52 L139.45 342.62 L139.95 341.6 L140.45 340.48 L140.95 339.27 L141.45 337.99 L141.95 336.66 L142.45 335.28 L142.95 333.9 L143.45 332.52 L143.95 331.19 L144.45 329.95 L144.95 328.85 L145.45 327.94 L145.95 327.33 L146.45 327.25 L146.95 327.67 L147.45 328.47 L147.95 329.63 L148.45 331.08 L148.95 332.75 L149.45 334.57 L149.95 336.46 L150.45 338.34 L150.95 340.17 L151.45 341.88 L151.95 343.44 L152.45 344.82 L152.95 346.02 L153.45 347.04 L153.95 347.88 L154.45 348.55 L154.95 349.09 L155.45 349.51 L155.95 349.82 L156.45 350.06 L156.95 350.23 L157.45 350.35 L157.95 350.43 L158.45 350.49 L158.95 350.53 L159.45 350.56 L159.95 350.57 L160.45 350.58 L217.45 350.6 L217.7 350.6 L116.45 350.6 Z" fill="#c8001a" stroke="#c8001a" stroke-width="1.0" stroke-linejoin="round"/>
<line x1="161" y1="219.6" x2="161" y2="350.6" stroke="#1b3466" stroke-width="1.2" stroke-dasharray="2 2"/>
<rect x="116.15" y="218.1" width="101.85" height="132.5" fill="none" stroke="#111" stroke-width="1.5"/>
<path d="M117.35 351.1V353.7M118.9 351.1V352.9M120.45 351.1V353.7M122 351.1V352.9M123.55 351.1V353.7M125.1 351.1V352.9M126.65 351.1V353.7M128.2 351.1V352.9M129.75 351.1V353.7M131.3 351.1V352.9M132.85 351.1V353.7M134.4 351.1V352.9M135.95 351.1V353.7M138.4 351.1V354.3M145.36 351.1V353.2M149.44 351.1V353.2M152.33 351.1V353.2M154.57 351.1V353.2M156.4 351.1V353.2M157.95 351.1V353.2M159.29 351.1V353.2M160.47 351.1V353.2M161.53 351.1V354.3M168.5 351.1V353.2M172.57 351.1V353.2M175.46 351.1V353.2M177.7 351.1V353.2M179.53 351.1V353.2M181.08 351.1V353.2M182.42 351.1V353.2M183.61 351.1V353.2M184.67 351.1V354.3M191.63 351.1V353.2M195.7 351.1V353.2M198.59 351.1V353.2M200.84 351.1V353.2M202.67 351.1V353.2M204.22 351.1V353.2M205.56 351.1V353.2M206.74 351.1V353.2M207.8 351.1V354.3M214.76 351.1V353.2" stroke="#000" stroke-width="0.85" fill="none"/>
<text x="122.6" y="362.3" font-size="7.0" text-anchor="middle" font-weight="normal" fill="#111" stroke="#111" stroke-width="0.2">0</text>
<text x="132.4" y="362.3" font-size="7.0" fill="#111" stroke="#111" stroke-width="0.2">10<tspan font-size="5.3" dx="0.3" dy="-2.9">2</tspan></text>
<text x="156.8" y="362.3" font-size="7.0" fill="#111" stroke="#111" stroke-width="0.2">10<tspan font-size="5.3" dx="0.3" dy="-2.9">3</tspan></text>
<text x="179.3" y="362.3" font-size="7.0" fill="#111" stroke="#111" stroke-width="0.2">10<tspan font-size="5.3" dx="0.3" dy="-2.9">4</tspan></text>
<text x="201.8" y="362.3" font-size="7.0" fill="#111" stroke="#111" stroke-width="0.2">10<tspan font-size="5.3" dx="0.3" dy="-2.9">5</tspan></text>
<path d="M248.4 247 L284.9 246.98 L285.4 246.96 L285.9 246.92 L286.4 246.84 L286.9 246.68 L287.4 246.42 L287.9 246 L288.4 245.35 L288.9 244.43 L289.4 243.17 L289.9 241.57 L290.4 239.63 L290.9 237.41 L291.4 235 L291.9 232.54 L292.4 230.16 L292.9 228.02 L293.4 226.21 L293.9 224.8 L294.4 223.83 L294.9 223.27 L295.4 223.03 L295.9 223 L296.4 223.11 L296.9 223.51 L297.4 224.32 L297.9 225.59 L298.4 227.33 L298.9 229.48 L299.4 231.91 L299.9 234.48 L300.4 237.03 L300.9 239.39 L301.4 241.45 L301.9 243.15 L302.4 244.46 L302.9 245.41 L303.4 246.06 L303.9 246.48 L304.4 246.72 L304.9 246.86 L305.4 246.94 L305.9 246.97 L306.4 246.99 L349.4 247" fill="none" stroke="#3ec8f4" stroke-width="1.35" stroke-linejoin="round"/>
<path d="M248.4 259.9 L279.9 259.88 L280.4 259.88 L280.9 259.86 L281.4 259.84 L281.9 259.82 L282.4 259.78 L282.9 259.72 L283.4 259.65 L283.9 259.54 L284.4 259.4 L284.9 259.21 L285.4 258.95 L285.9 258.61 L286.4 258.18 L286.9 257.63 L287.4 256.95 L287.9 256.1 L288.4 255.08 L288.9 253.87 L289.4 252.46 L289.9 250.85 L290.4 249.05 L290.9 247.1 L291.4 245.05 L291.9 242.95 L292.4 240.91 L292.9 239.02 L293.4 237.43 L293.9 236.29 L294.4 235.94 L294.9 236.76 L295.4 238.22 L295.9 240.1 L296.4 242.22 L296.9 244.43 L297.4 246.63 L297.9 248.72 L298.4 250.65 L298.9 252.37 L299.4 253.87 L299.9 255.15 L300.4 256.21 L300.9 257.08 L301.4 257.77 L301.9 258.32 L302.4 258.74 L302.9 259.06 L303.4 259.3 L303.9 259.48 L304.4 259.61 L304.9 259.7 L305.4 259.76 L305.9 259.81 L306.4 259.84 L306.9 259.86 L307.4 259.87 L307.9 259.88 L349.4 259.9" fill="none" stroke="#172a5c" stroke-width="1.6" stroke-linejoin="round"/>
<path d="M248.4 272.7 L283.4 272.69 L283.9 272.68 L284.4 272.66 L284.9 272.63 L285.4 272.59 L285.9 272.51 L286.4 272.39 L286.9 272.21 L287.4 271.95 L287.9 271.57 L288.4 271.04 L288.9 270.33 L289.4 269.4 L289.9 268.22 L290.4 266.77 L290.9 265.04 L291.4 263.05 L291.9 260.86 L292.4 258.53 L292.9 256.16 L293.4 253.88 L293.9 251.82 L294.4 250.12 L294.9 248.88 L295.4 248.21 L295.9 248.15 L296.4 248.7 L296.9 249.83 L297.4 251.45 L297.9 253.45 L298.4 255.69 L298.9 258.05 L299.4 260.4 L299.9 262.63 L300.4 264.66 L300.9 266.44 L301.4 267.95 L301.9 269.19 L302.4 270.17 L302.9 270.92 L303.4 271.48 L303.9 271.88 L304.4 272.17 L304.9 272.36 L305.4 272.49 L305.9 272.57 L306.4 272.63 L306.9 272.66 L307.4 272.68 L307.9 272.69 L349.4 272.7" fill="none" stroke="#7d7dff" stroke-width="1.35" stroke-linejoin="round"/>
<path d="M248.4 285.7 L279.9 285.69 L280.4 285.68 L280.9 285.67 L281.4 285.64 L281.9 285.61 L282.4 285.57 L282.9 285.49 L283.4 285.39 L283.9 285.25 L284.4 285.05 L284.9 284.78 L285.4 284.41 L285.9 283.94 L286.4 283.33 L286.9 282.58 L287.4 281.65 L287.9 280.54 L288.4 279.25 L288.9 277.78 L289.4 276.14 L289.9 274.37 L290.4 272.5 L290.9 270.61 L291.4 268.75 L291.9 266.99 L292.4 265.42 L292.9 264.11 L293.4 263.12 L293.9 262.51 L294.4 262.3 L294.9 262.52 L295.4 263.16 L295.9 264.19 L296.4 265.56 L296.9 267.19 L297.4 269 L297.9 270.92 L298.4 272.86 L298.9 274.75 L299.4 276.53 L299.9 278.17 L300.4 279.63 L300.9 280.9 L301.4 281.97 L301.9 282.86 L302.4 283.58 L302.9 284.14 L303.4 284.58 L303.9 284.91 L304.4 285.15 L304.9 285.32 L305.4 285.45 L305.9 285.54 L306.4 285.59 L306.9 285.63 L307.4 285.66 L307.9 285.67 L308.4 285.68 L349.4 285.7" fill="none" stroke="#1a7a1a" stroke-width="1.5" stroke-linejoin="round"/>
<path d="M248.4 298.7 L282.4 298.69 L282.9 298.67 L283.4 298.65 L283.9 298.62 L284.4 298.56 L284.9 298.48 L285.4 298.34 L285.9 298.14 L286.4 297.84 L286.9 297.43 L287.4 296.85 L287.9 296.09 L288.4 295.1 L288.9 293.86 L289.4 292.35 L289.9 290.58 L290.4 288.58 L290.9 286.4 L291.4 284.13 L291.9 281.87 L292.4 279.74 L292.9 277.88 L293.4 276.41 L293.9 275.43 L294.4 275.01 L294.9 275.19 L295.4 275.95 L295.9 277.24 L296.4 278.96 L296.9 281 L297.4 283.22 L297.9 285.5 L298.4 287.73 L298.9 289.81 L299.4 291.67 L299.9 293.29 L300.4 294.63 L300.9 295.72 L301.4 296.57 L301.9 297.22 L302.4 297.69 L302.9 298.03 L303.4 298.27 L303.9 298.43 L304.4 298.53 L304.9 298.6 L305.4 298.64 L305.9 298.67 L306.4 298.68 L349.4 298.7 L349.5 298.7 L248.4 298.7 Z" fill="#ff7f00" stroke="#ff7f00" stroke-width="1.2" stroke-linejoin="round"/>
<path d="M248.4 311.5 L281.9 311.49 L282.4 311.47 L282.9 311.45 L283.4 311.42 L283.9 311.37 L284.4 311.28 L284.9 311.15 L285.4 310.94 L285.9 310.65 L286.4 310.24 L286.9 309.67 L287.4 308.91 L287.9 307.93 L288.4 306.7 L288.9 305.2 L289.4 303.45 L289.9 301.47 L290.4 299.31 L290.9 297.05 L291.4 294.81 L291.9 292.7 L292.4 290.86 L292.9 289.4 L293.4 288.42 L293.9 288.01 L294.4 288.17 L294.9 288.85 L295.4 290.01 L295.9 291.56 L296.4 293.43 L296.9 295.48 L297.4 297.62 L297.9 299.75 L298.4 301.77 L298.9 303.63 L299.4 305.28 L299.9 306.69 L300.4 307.87 L300.9 308.82 L301.4 309.56 L301.9 310.13 L302.4 310.56 L302.9 310.86 L303.4 311.08 L303.9 311.23 L304.4 311.33 L304.9 311.4 L305.4 311.44 L305.9 311.46 L306.4 311.48 L306.9 311.49 L349.4 311.5 L349.5 311.5 L248.4 311.5 Z" fill="#20009c" stroke="#20009c" stroke-width="1.2" stroke-linejoin="round"/>
<path d="M248.4 324.6 L278.9 324.59 L279.4 324.57 L279.9 324.55 L280.4 324.52 L280.9 324.46 L281.4 324.37 L281.9 324.23 L282.4 324.02 L282.9 323.71 L283.4 323.28 L283.9 322.68 L284.4 321.89 L284.9 320.86 L285.4 319.57 L285.9 318.01 L286.4 316.17 L286.9 314.1 L287.4 311.84 L287.9 309.48 L288.4 307.13 L288.9 304.92 L289.4 302.99 L289.9 301.46 L290.4 300.44 L290.9 300.01 L291.4 300.2 L291.9 300.99 L292.4 302.32 L292.9 304.11 L293.4 306.22 L293.9 308.53 L294.4 310.9 L294.9 313.21 L295.4 315.37 L295.9 317.31 L296.4 318.98 L296.9 320.38 L297.4 321.51 L297.9 322.39 L298.4 323.06 L298.9 323.56 L299.4 323.91 L299.9 324.15 L300.4 324.32 L300.9 324.43 L301.4 324.5 L301.9 324.54 L302.4 324.57 L302.9 324.58 L349.4 324.6 L349.5 324.6 L248.4 324.6 Z" fill="#42fa06" stroke="#42fa06" stroke-width="1.2" stroke-linejoin="round"/>
<path d="M248.4 337.6 L282.4 337.59 L282.9 337.58 L283.4 337.56 L283.9 337.53 L284.4 337.48 L284.9 337.41 L285.4 337.29 L285.9 337.11 L286.4 336.84 L286.9 336.46 L287.4 335.93 L287.9 335.21 L288.4 334.28 L288.9 333.08 L289.4 331.62 L289.9 329.88 L290.4 327.88 L290.9 325.66 L291.4 323.31 L291.9 320.93 L292.4 318.63 L292.9 316.55 L293.4 314.83 L293.9 313.59 L294.4 312.91 L294.9 312.85 L295.4 313.41 L295.9 314.54 L296.4 316.18 L296.9 318.19 L297.4 320.45 L297.9 322.83 L298.4 325.2 L298.9 327.45 L299.4 329.5 L299.9 331.29 L300.4 332.81 L300.9 334.06 L301.4 335.05 L301.9 335.8 L302.4 336.37 L302.9 336.78 L303.4 337.06 L303.9 337.26 L304.4 337.39 L304.9 337.47 L305.4 337.52 L305.9 337.56 L306.4 337.58 L306.9 337.59 L349.4 337.6 L349.5 337.6 L248.4 337.6 Z" fill="#0536c0" stroke="#0536c0" stroke-width="1.2" stroke-linejoin="round"/>
<path d="M248.4 350.5 L259.4 350.48 L259.9 350.48 L260.4 350.48 L260.9 350.47 L261.4 350.47 L261.9 350.46 L262.4 350.46 L262.9 350.45 L263.4 350.44 L263.9 350.43 L264.4 350.42 L264.9 350.41 L265.4 350.4 L265.9 350.39 L266.4 350.37 L266.9 350.36 L267.4 350.34 L267.9 350.32 L268.4 350.3 L268.9 350.27 L269.4 350.24 L269.9 350.2 L270.4 350.14 L270.9 350.04 L271.4 349.88 L271.9 349.63 L272.4 349.27 L272.9 348.76 L273.4 348.1 L273.9 347.27 L274.4 346.3 L274.9 345.21 L275.4 344.03 L275.9 342.78 L276.4 341.49 L276.9 340.19 L277.4 338.87 L277.9 337.55 L278.4 336.22 L278.9 334.91 L279.4 333.61 L279.9 332.34 L280.4 331.12 L280.9 330 L281.4 329.02 L281.9 328.24 L282.4 327.71 L282.9 327.5 L283.4 327.61 L283.9 328.04 L284.4 328.75 L284.9 329.69 L285.4 330.79 L285.9 332.01 L286.4 333.29 L286.9 334.6 L287.4 335.94 L287.9 337.29 L288.4 338.63 L288.9 339.98 L289.4 341.31 L289.9 342.63 L290.4 343.9 L290.9 345.11 L291.4 346.22 L291.9 347.21 L292.4 348.05 L292.9 348.73 L293.4 349.25 L293.9 349.62 L294.4 349.87 L294.9 350.04 L295.4 350.14 L295.9 350.2 L296.4 350.25 L296.9 350.28 L297.4 350.3 L297.9 350.32 L298.4 350.34 L298.9 350.36 L299.4 350.37 L299.9 350.39 L300.4 350.4 L300.9 350.41 L301.4 350.42 L301.9 350.43 L302.4 350.44 L302.9 350.45 L303.4 350.46 L303.9 350.46 L304.4 350.47 L304.9 350.47 L305.4 350.48 L305.9 350.48 L349.4 350.5 L349.5 350.5 L248.4 350.5 Z" fill="#c8001a" stroke="#c8001a" stroke-width="1.0" stroke-linejoin="round"/>
<line x1="294" y1="219.5" x2="294" y2="350.5" stroke="#1b3466" stroke-width="1.2" stroke-dasharray="2 2"/>
<rect x="248.1" y="218" width="101.7" height="132.5" fill="none" stroke="#111" stroke-width="1.5"/>
<text x="355" y="242.8" font-size="7" text-anchor="start" font-weight="normal" fill="#111" >DC</text>
<text x="355" y="254" font-size="7" text-anchor="start" font-weight="normal" fill="#111" >Insulin + IGFBP7 + DC</text>
<text x="355" y="269" font-size="7" text-anchor="start" font-weight="normal" fill="#111" >IGFBP7 + DC</text>
<text x="355" y="282.2" font-size="7" text-anchor="start" font-weight="normal" fill="#111" >Insulin + DC</text>
<text x="355" y="294.9" font-size="7" text-anchor="start" font-weight="normal" fill="#111" >Insulin + IGFBP7</text>
<text x="355" y="307.3" font-size="7" text-anchor="start" font-weight="normal" fill="#111" >IGFBP7</text>
<text x="355" y="321.1" font-size="7" text-anchor="start" font-weight="normal" fill="#111" >Insulin</text>
<text x="355" y="333.6" font-size="7" text-anchor="start" font-weight="normal" fill="#111" >Starved</text>
<text x="355" y="346.7" font-size="7" text-anchor="start" font-weight="normal" fill="#111" >Isotype</text>
<path d="M249.3 351V353.6M250.85 351V352.8M252.4 351V353.6M253.95 351V352.8M255.5 351V353.6M257.05 351V352.8M258.6 351V353.6M260.15 351V352.8M261.7 351V353.6M263.25 351V352.8M264.8 351V353.6M266.35 351V352.8M267.9 351V353.6M270.3 351V354.2M277.2 351V353.1M281.24 351V353.1M284.11 351V353.1M286.33 351V353.1M288.15 351V353.1M289.68 351V353.1M291.01 351V353.1M292.18 351V353.1M293.23 351V354.2M300.14 351V353.1M304.18 351V353.1M307.04 351V353.1M309.26 351V353.1M311.08 351V353.1M312.61 351V353.1M313.94 351V353.1M315.12 351V353.1M316.17 351V354.2M323.07 351V353.1M327.11 351V353.1M329.97 351V353.1M332.2 351V353.1M334.01 351V353.1M335.55 351V353.1M336.88 351V353.1M338.05 351V353.1M339.1 351V354.2M346 351V353.1" stroke="#000" stroke-width="0.85" fill="none"/>
<text x="254.5" y="362.3" font-size="7.0" text-anchor="middle" font-weight="normal" fill="#111" stroke="#111" stroke-width="0.2">0</text>
<text x="264.3" y="362.3" font-size="7.0" fill="#111" stroke="#111" stroke-width="0.2">10<tspan font-size="5.3" dx="0.3" dy="-2.9">2</tspan></text>
<text x="288.7" y="362.3" font-size="7.0" fill="#111" stroke="#111" stroke-width="0.2">10<tspan font-size="5.3" dx="0.3" dy="-2.9">3</tspan></text>
<text x="311.5" y="362.3" font-size="7.0" fill="#111" stroke="#111" stroke-width="0.2">10<tspan font-size="5.3" dx="0.3" dy="-2.9">4</tspan></text>
<text x="333.1" y="362.3" font-size="7.0" fill="#111" stroke="#111" stroke-width="0.2">10<tspan font-size="5.3" dx="0.3" dy="-2.9">5</tspan></text>
<line x1="43.2" y1="408.6" x2="43.2" y2="491.5" stroke="#111" stroke-width="1.3"/>
<line x1="40.2" y1="490.9" x2="83.5" y2="490.9" stroke="#111" stroke-width="1.3"/>
<line x1="40.2" y1="490.9" x2="43.2" y2="490.9" stroke="#111" stroke-width="1.1"/>
<text x="35" y="493.4" font-size="7.0" text-anchor="middle" font-weight="normal" fill="#111" >0</text>
<line x1="40.2" y1="470.4" x2="43.2" y2="470.4" stroke="#111" stroke-width="1.1"/>
<text x="35" y="472.9" font-size="7.0" text-anchor="middle" font-weight="normal" fill="#111" >1</text>
<line x1="40.2" y1="449.9" x2="43.2" y2="449.9" stroke="#111" stroke-width="1.1"/>
<text x="35" y="452.4" font-size="7.0" text-anchor="middle" font-weight="normal" fill="#111" >2</text>
<line x1="40.2" y1="429.4" x2="43.2" y2="429.4" stroke="#111" stroke-width="1.1"/>
<text x="35" y="431.9" font-size="7.0" text-anchor="middle" font-weight="normal" fill="#111" >3</text>
<line x1="40.2" y1="408.9" x2="43.2" y2="408.9" stroke="#111" stroke-width="1.1"/>
<text x="35" y="411.4" font-size="7.0" text-anchor="middle" font-weight="normal" fill="#111" >4</text>
<line x1="43.2" y1="490.9" x2="43.2" y2="493.7" stroke="#111" stroke-width="1.1"/>
<text x="43.2" y="502.2" font-size="7.0" text-anchor="middle" font-weight="normal" fill="#111" >0</text>
<line x1="56.1" y1="490.9" x2="56.1" y2="493.7" stroke="#111" stroke-width="1.1"/>
<text x="56.1" y="502.2" font-size="7.0" text-anchor="middle" font-weight="normal" fill="#111" >24</text>
<line x1="69" y1="490.9" x2="69" y2="493.7" stroke="#111" stroke-width="1.1"/>
<text x="69" y="502.2" font-size="7.0" text-anchor="middle" font-weight="normal" fill="#111" >48</text>
<line x1="81.9" y1="490.9" x2="81.9" y2="493.7" stroke="#111" stroke-width="1.1"/>
<text x="81.9" y="502.2" font-size="7.0" text-anchor="middle" font-weight="normal" fill="#111" >72</text>
<text x="63.75" y="404" font-size="9.3" text-anchor="middle" font-weight="normal" fill="#111" >Scr</text>
<path d="M43.2 480.65 L56.1 467.32 L69 446.82 L81.9 430.42" fill="none" stroke="#3cee22" stroke-width="1.3"/>
<circle cx="43.2" cy="480.65" r="1.5" fill="#3cee22"/>
<path d="M56.1 465.27 L56.1 469.38 M54.5 465.27 L57.7 465.27 M54.5 469.38 L57.7 469.38" stroke="#3cee22" stroke-width="0.9" fill="none"/>
<circle cx="56.1" cy="467.32" r="1.5" fill="#3cee22"/>
<path d="M69 444.37 L69 449.28 M67.4 444.37 L70.6 444.37 M67.4 449.28 L70.6 449.28" stroke="#3cee22" stroke-width="0.9" fill="none"/>
<circle cx="69" cy="446.82" r="1.5" fill="#3cee22"/>
<path d="M81.9 428.37 L81.9 432.47 M80.3 428.37 L83.5 428.37 M80.3 432.47 L83.5 432.47" stroke="#3cee22" stroke-width="0.9" fill="none"/>
<circle cx="81.9" cy="430.42" r="1.5" fill="#3cee22"/>
<path d="M43.2 480.65 L56.1 467.32 L69 443.75 L81.9 429.4" fill="none" stroke="#0e40c4" stroke-width="1.3"/>
<circle cx="43.2" cy="480.65" r="1.5" fill="#0e40c4"/>
<path d="M56.1 464.25 L56.1 470.4 M54.5 464.25 L57.7 464.25 M54.5 470.4 L57.7 470.4" stroke="#0e40c4" stroke-width="0.9" fill="none"/>
<circle cx="56.1" cy="467.32" r="1.5" fill="#0e40c4"/>
<path d="M69 442.11 L69 445.39 M67.4 442.11 L70.6 442.11 M67.4 445.39 L70.6 445.39" stroke="#0e40c4" stroke-width="0.9" fill="none"/>
<circle cx="69" cy="443.75" r="1.5" fill="#0e40c4"/>
<path d="M81.9 426.53 L81.9 432.27 M80.3 426.53 L83.5 426.53 M80.3 432.27 L83.5 432.27" stroke="#0e40c4" stroke-width="0.9" fill="none"/>
<circle cx="81.9" cy="429.4" r="1.5" fill="#0e40c4"/>
<path d="M43.2 480.65 L56.1 468.35 L69 442.72 L81.9 431.04" fill="none" stroke="#c8101e" stroke-width="1.3"/>
<circle cx="43.2" cy="480.65" r="1.5" fill="#c8101e"/>
<path d="M56.1 467.32 L56.1 469.37 M54.5 467.32 L57.7 467.32 M54.5 469.37 L57.7 469.37" stroke="#c8101e" stroke-width="0.9" fill="none"/>
<circle cx="56.1" cy="468.35" r="1.5" fill="#c8101e"/>
<path d="M69 441.08 L69 444.36 M67.4 441.08 L70.6 441.08 M67.4 444.36 L70.6 444.36" stroke="#c8101e" stroke-width="0.9" fill="none"/>
<circle cx="69" cy="442.72" r="1.5" fill="#c8101e"/>
<path d="M81.9 429.4 L81.9 432.68 M80.3 429.4 L83.5 429.4 M80.3 432.68 L83.5 432.68" stroke="#c8101e" stroke-width="0.9" fill="none"/>
<circle cx="81.9" cy="431.04" r="1.5" fill="#c8101e"/>
<path d="M43.2 480.65 L56.1 457.07 L69 435.55 L81.9 416.07" fill="none" stroke="#2a18a8" stroke-width="1.3"/>
<circle cx="43.2" cy="480.65" r="1.5" fill="#2a18a8"/>
<path d="M56.1 455.44 L56.1 458.71 M54.5 455.44 L57.7 455.44 M54.5 458.71 L57.7 458.71" stroke="#2a18a8" stroke-width="0.9" fill="none"/>
<circle cx="56.1" cy="457.07" r="1.5" fill="#2a18a8"/>
<path d="M69 433.91 L69 437.19 M67.4 433.91 L70.6 433.91 M67.4 437.19 L70.6 437.19" stroke="#2a18a8" stroke-width="0.9" fill="none"/>
<circle cx="69" cy="435.55" r="1.5" fill="#2a18a8"/>
<path d="M81.9 413.2 L81.9 418.94 M80.3 413.2 L83.5 413.2 M80.3 418.94 L83.5 418.94" stroke="#2a18a8" stroke-width="0.9" fill="none"/>
<circle cx="81.9" cy="416.07" r="1.5" fill="#2a18a8"/>
<line x1="124.2" y1="408.6" x2="124.2" y2="491.5" stroke="#111" stroke-width="1.3"/>
<line x1="121.2" y1="490.9" x2="164.5" y2="490.9" stroke="#111" stroke-width="1.3"/>
<line x1="121.2" y1="490.9" x2="124.2" y2="490.9" stroke="#111" stroke-width="1.1"/>
<text x="116" y="493.4" font-size="7.0" text-anchor="middle" font-weight="normal" fill="#111" >0</text>
<line x1="121.2" y1="470.4" x2="124.2" y2="470.4" stroke="#111" stroke-width="1.1"/>
<text x="116" y="472.9" font-size="7.0" text-anchor="middle" font-weight="normal" fill="#111" >1</text>
<line x1="121.2" y1="449.9" x2="124.2" y2="449.9" stroke="#111" stroke-width="1.1"/>
<text x="116" y="452.4" font-size="7.0" text-anchor="middle" font-weight="normal" fill="#111" >2</text>
<line x1="121.2" y1="429.4" x2="124.2" y2="429.4" stroke="#111" stroke-width="1.1"/>
<text x="116" y="431.9" font-size="7.0" text-anchor="middle" font-weight="normal" fill="#111" >3</text>
<line x1="121.2" y1="408.9" x2="124.2" y2="408.9" stroke="#111" stroke-width="1.1"/>
<text x="116" y="411.4" font-size="7.0" text-anchor="middle" font-weight="normal" fill="#111" >4</text>
<line x1="124.2" y1="490.9" x2="124.2" y2="493.7" stroke="#111" stroke-width="1.1"/>
<text x="124.2" y="502.2" font-size="7.0" text-anchor="middle" font-weight="normal" fill="#111" >0</text>
<line x1="137.1" y1="490.9" x2="137.1" y2="493.7" stroke="#111" stroke-width="1.1"/>
<text x="137.1" y="502.2" font-size="7.0" text-anchor="middle" font-weight="normal" fill="#111" >24</text>
<line x1="150" y1="490.9" x2="150" y2="493.7" stroke="#111" stroke-width="1.1"/>
<text x="150" y="502.2" font-size="7.0" text-anchor="middle" font-weight="normal" fill="#111" >48</text>
<line x1="162.9" y1="490.9" x2="162.9" y2="493.7" stroke="#111" stroke-width="1.1"/>
<text x="162.9" y="502.2" font-size="7.0" text-anchor="middle" font-weight="normal" fill="#111" >72</text>
<text x="169.9" y="502.2" font-size="7.1" text-anchor="start" font-weight="normal" fill="#111" >hours</text>
<text x="148.3" y="404" font-size="9.3" text-anchor="middle" font-weight="normal" fill="#111" >sh.959</text>
<path d="M124.2 480.65 L137.1 473.47 L150 466.71 L162.9 463.84" fill="none" stroke="#3cee22" stroke-width="1.3"/>
<circle cx="124.2" cy="480.65" r="1.5" fill="#3cee22"/>
<path d="M137.1 472.65 L137.1 474.29 M135.5 472.65 L138.7 472.65 M135.5 474.29 L138.7 474.29" stroke="#3cee22" stroke-width="0.9" fill="none"/>
<circle cx="137.1" cy="473.47" r="1.5" fill="#3cee22"/>
<path d="M150 465.69 L150 467.73 M148.4 465.69 L151.6 465.69 M148.4 467.73 L151.6 467.73" stroke="#3cee22" stroke-width="0.9" fill="none"/>
<circle cx="150" cy="466.71" r="1.5" fill="#3cee22"/>
<path d="M162.9 462.81 L162.9 464.86 M161.3 462.81 L164.5 462.81 M161.3 464.86 L164.5 464.86" stroke="#3cee22" stroke-width="0.9" fill="none"/>
<circle cx="162.9" cy="463.84" r="1.5" fill="#3cee22"/>
<path d="M124.2 480.65 L137.1 474.5 L150 467.94 L162.9 464.25" fill="none" stroke="#0e40c4" stroke-width="1.3"/>
<circle cx="124.2" cy="480.65" r="1.5" fill="#0e40c4"/>
<path d="M137.1 473.68 L137.1 475.32 M135.5 473.68 L138.7 473.68 M135.5 475.32 L138.7 475.32" stroke="#0e40c4" stroke-width="0.9" fill="none"/>
<circle cx="137.1" cy="474.5" r="1.5" fill="#0e40c4"/>
<path d="M150 466.92 L150 468.96 M148.4 466.92 L151.6 466.92 M148.4 468.96 L151.6 468.96" stroke="#0e40c4" stroke-width="0.9" fill="none"/>
<circle cx="150" cy="467.94" r="1.5" fill="#0e40c4"/>
<path d="M162.9 463.02 L162.9 465.48 M161.3 463.02 L164.5 463.02 M161.3 465.48 L164.5 465.48" stroke="#0e40c4" stroke-width="0.9" fill="none"/>
<circle cx="162.9" cy="464.25" r="1.5" fill="#0e40c4"/>
<path d="M124.2 480.65 L137.1 475.52 L150 465.27 L162.9 463.22" fill="none" stroke="#c8101e" stroke-width="1.3"/>
<circle cx="124.2" cy="480.65" r="1.5" fill="#c8101e"/>
<path d="M137.1 474.5 L137.1 476.55 M135.5 474.5 L138.7 474.5 M135.5 476.55 L138.7 476.55" stroke="#c8101e" stroke-width="0.9" fill="none"/>
<circle cx="137.1" cy="475.52" r="1.5" fill="#c8101e"/>
<path d="M150 463.84 L150 466.71 M148.4 463.84 L151.6 463.84 M148.4 466.71 L151.6 466.71" stroke="#c8101e" stroke-width="0.9" fill="none"/>
<circle cx="150" cy="465.27" r="1.5" fill="#c8101e"/>
<path d="M162.9 460.35 L162.9 466.09 M161.3 460.35 L164.5 460.35 M161.3 466.09 L164.5 466.09" stroke="#c8101e" stroke-width="0.9" fill="none"/>
<circle cx="162.9" cy="463.22" r="1.5" fill="#c8101e"/>
<path d="M124.2 480.65 L137.1 468.35 L150 460.15 L162.9 451.13" fill="none" stroke="#2a18a8" stroke-width="1.3"/>
<circle cx="124.2" cy="480.65" r="1.5" fill="#2a18a8"/>
<path d="M137.1 466.91 L137.1 469.78 M135.5 466.91 L138.7 466.91 M135.5 469.78 L138.7 469.78" stroke="#2a18a8" stroke-width="0.9" fill="none"/>
<circle cx="137.1" cy="468.35" r="1.5" fill="#2a18a8"/>
<path d="M150 457.69 L150 462.61 M148.4 457.69 L151.6 457.69 M148.4 462.61 L151.6 462.61" stroke="#2a18a8" stroke-width="0.9" fill="none"/>
<circle cx="150" cy="460.15" r="1.5" fill="#2a18a8"/>
<path d="M162.9 449.9 L162.9 452.36 M161.3 449.9 L164.5 449.9 M161.3 452.36 L164.5 452.36" stroke="#2a18a8" stroke-width="0.9" fill="none"/>
<circle cx="162.9" cy="451.13" r="1.5" fill="#2a18a8"/>
<line x1="230.3" y1="408.6" x2="230.3" y2="491.5" stroke="#111" stroke-width="1.3"/>
<line x1="227.3" y1="490.9" x2="270.6" y2="490.9" stroke="#111" stroke-width="1.3"/>
<line x1="227.3" y1="490.9" x2="230.3" y2="490.9" stroke="#111" stroke-width="1.1"/>
<text x="222.1" y="493.4" font-size="7.0" text-anchor="middle" font-weight="normal" fill="#111" >0</text>
<line x1="227.3" y1="470.4" x2="230.3" y2="470.4" stroke="#111" stroke-width="1.1"/>
<text x="222.1" y="472.9" font-size="7.0" text-anchor="middle" font-weight="normal" fill="#111" >1</text>
<line x1="227.3" y1="449.9" x2="230.3" y2="449.9" stroke="#111" stroke-width="1.1"/>
<text x="222.1" y="452.4" font-size="7.0" text-anchor="middle" font-weight="normal" fill="#111" >2</text>
<line x1="227.3" y1="429.4" x2="230.3" y2="429.4" stroke="#111" stroke-width="1.1"/>
<text x="222.1" y="431.9" font-size="7.0" text-anchor="middle" font-weight="normal" fill="#111" >3</text>
<line x1="227.3" y1="408.9" x2="230.3" y2="408.9" stroke="#111" stroke-width="1.1"/>
<text x="222.1" y="411.4" font-size="7.0" text-anchor="middle" font-weight="normal" fill="#111" >4</text>
<line x1="230.3" y1="490.9" x2="230.3" y2="493.7" stroke="#111" stroke-width="1.1"/>
<text x="230.3" y="502.2" font-size="7.0" text-anchor="middle" font-weight="normal" fill="#111" >0</text>
<line x1="243.2" y1="490.9" x2="243.2" y2="493.7" stroke="#111" stroke-width="1.1"/>
<text x="243.2" y="502.2" font-size="7.0" text-anchor="middle" font-weight="normal" fill="#111" >24</text>
<line x1="256.1" y1="490.9" x2="256.1" y2="493.7" stroke="#111" stroke-width="1.1"/>
<text x="256.1" y="502.2" font-size="7.0" text-anchor="middle" font-weight="normal" fill="#111" >48</text>
<line x1="269" y1="490.9" x2="269" y2="493.7" stroke="#111" stroke-width="1.1"/>
<text x="269" y="502.2" font-size="7.0" text-anchor="middle" font-weight="normal" fill="#111" >72</text>
<text x="250.2" y="404" font-size="9.3" text-anchor="middle" font-weight="normal" fill="#111" >Scr</text>
<path d="M236.75 478.6 L243.2 461.17 L256.1 443.75 L269 432.47" fill="none" stroke="#3cee22" stroke-width="1.3"/>
<path d="M236.75 474.91 L236.75 482.29 M235.15 474.91 L238.35 474.91 M235.15 482.29 L238.35 482.29" stroke="#3cee22" stroke-width="0.9" fill="none"/>
<circle cx="236.75" cy="478.6" r="1.5" fill="#3cee22"/>
<path d="M243.2 459.12 L243.2 463.22 M241.6 459.12 L244.8 459.12 M241.6 463.22 L244.8 463.22" stroke="#3cee22" stroke-width="0.9" fill="none"/>
<circle cx="243.2" cy="461.17" r="1.5" fill="#3cee22"/>
<path d="M256.1 442.11 L256.1 445.39 M254.5 442.11 L257.7 442.11 M254.5 445.39 L257.7 445.39" stroke="#3cee22" stroke-width="0.9" fill="none"/>
<circle cx="256.1" cy="443.75" r="1.5" fill="#3cee22"/>
<path d="M269 431.24 L269 433.7 M267.4 431.24 L270.6 431.24 M267.4 433.7 L270.6 433.7" stroke="#3cee22" stroke-width="0.9" fill="none"/>
<circle cx="269" cy="432.47" r="1.5" fill="#3cee22"/>
<path d="M230.3 480.65 L243.2 458.1 L256.1 445.8 L269 432.47" fill="none" stroke="#0e40c4" stroke-width="1.3"/>
<path d="M230.3 479.62 L230.3 481.67 M228.7 479.62 L231.9 479.62 M228.7 481.67 L231.9 481.67" stroke="#0e40c4" stroke-width="0.9" fill="none"/>
<circle cx="230.3" cy="480.65" r="1.5" fill="#0e40c4"/>
<path d="M243.2 456.46 L243.2 459.74 M241.6 456.46 L244.8 456.46 M241.6 459.74 L244.8 459.74" stroke="#0e40c4" stroke-width="0.9" fill="none"/>
<circle cx="243.2" cy="458.1" r="1.5" fill="#0e40c4"/>
<path d="M256.1 443.75 L256.1 447.85 M254.5 443.75 L257.7 443.75 M254.5 447.85 L257.7 447.85" stroke="#0e40c4" stroke-width="0.9" fill="none"/>
<circle cx="256.1" cy="445.8" r="1.5" fill="#0e40c4"/>
<path d="M269 431.24 L269 433.7 M267.4 431.24 L270.6 431.24 M267.4 433.7 L270.6 433.7" stroke="#0e40c4" stroke-width="0.9" fill="none"/>
<circle cx="269" cy="432.47" r="1.5" fill="#0e40c4"/>
<path d="M230.3 478.6 L243.2 459.12 L256.1 442.72 L269 431.45" fill="none" stroke="#c8101e" stroke-width="1.3"/>
<path d="M230.3 477.57 L230.3 479.62 M228.7 477.57 L231.9 477.57 M228.7 479.62 L231.9 479.62" stroke="#c8101e" stroke-width="0.9" fill="none"/>
<circle cx="230.3" cy="478.6" r="1.5" fill="#c8101e"/>
<path d="M243.2 455.02 L243.2 463.23 M241.6 455.02 L244.8 455.02 M241.6 463.23 L244.8 463.23" stroke="#c8101e" stroke-width="0.9" fill="none"/>
<circle cx="243.2" cy="459.12" r="1.5" fill="#c8101e"/>
<path d="M256.1 440.67 L256.1 444.77 M254.5 440.67 L257.7 440.67 M254.5 444.77 L257.7 444.77" stroke="#c8101e" stroke-width="0.9" fill="none"/>
<circle cx="256.1" cy="442.72" r="1.5" fill="#c8101e"/>
<path d="M269 429.81 L269 433.09 M267.4 429.81 L270.6 429.81 M267.4 433.09 L270.6 433.09" stroke="#c8101e" stroke-width="0.9" fill="none"/>
<circle cx="269" cy="431.45" r="1.5" fill="#c8101e"/>
<path d="M230.3 479.62 L243.2 457.07 L256.1 432.47 L269 422.22" fill="none" stroke="#2a18a8" stroke-width="1.3"/>
<path d="M230.3 478.6 L230.3 480.65 M228.7 478.6 L231.9 478.6 M228.7 480.65 L231.9 480.65" stroke="#2a18a8" stroke-width="0.9" fill="none"/>
<circle cx="230.3" cy="479.62" r="1.5" fill="#2a18a8"/>
<path d="M243.2 455.44 L243.2 458.71 M241.6 455.44 L244.8 455.44 M241.6 458.71 L244.8 458.71" stroke="#2a18a8" stroke-width="0.9" fill="none"/>
<circle cx="243.2" cy="457.07" r="1.5" fill="#2a18a8"/>
<path d="M256.1 430.83 L256.1 434.11 M254.5 430.83 L257.7 430.83 M254.5 434.11 L257.7 434.11" stroke="#2a18a8" stroke-width="0.9" fill="none"/>
<circle cx="256.1" cy="432.47" r="1.5" fill="#2a18a8"/>
<path d="M269 420.17 L269 424.27 M267.4 420.17 L270.6 420.17 M267.4 424.27 L270.6 424.27" stroke="#2a18a8" stroke-width="0.9" fill="none"/>
<circle cx="269" cy="422.22" r="1.5" fill="#2a18a8"/>
<line x1="316.1" y1="408.6" x2="316.1" y2="491.5" stroke="#111" stroke-width="1.3"/>
<line x1="313.1" y1="490.9" x2="356.4" y2="490.9" stroke="#111" stroke-width="1.3"/>
<line x1="313.1" y1="490.9" x2="316.1" y2="490.9" stroke="#111" stroke-width="1.1"/>
<text x="307.9" y="493.4" font-size="7.0" text-anchor="middle" font-weight="normal" fill="#111" >0</text>
<line x1="313.1" y1="470.4" x2="316.1" y2="470.4" stroke="#111" stroke-width="1.1"/>
<text x="307.9" y="472.9" font-size="7.0" text-anchor="middle" font-weight="normal" fill="#111" >1</text>
<line x1="313.1" y1="449.9" x2="316.1" y2="449.9" stroke="#111" stroke-width="1.1"/>
<text x="307.9" y="452.4" font-size="7.0" text-anchor="middle" font-weight="normal" fill="#111" >2</text>
<line x1="313.1" y1="429.4" x2="316.1" y2="429.4" stroke="#111" stroke-width="1.1"/>
<text x="307.9" y="431.9" font-size="7.0" text-anchor="middle" font-weight="normal" fill="#111" >3</text>
<line x1="313.1" y1="408.9" x2="316.1" y2="408.9" stroke="#111" stroke-width="1.1"/>
<text x="307.9" y="411.4" font-size="7.0" text-anchor="middle" font-weight="normal" fill="#111" >4</text>
<line x1="316.1" y1="490.9" x2="316.1" y2="493.7" stroke="#111" stroke-width="1.1"/>
<text x="316.1" y="502.2" font-size="7.0" text-anchor="middle" font-weight="normal" fill="#111" >0</text>
<line x1="329" y1="490.9" x2="329" y2="493.7" stroke="#111" stroke-width="1.1"/>
<text x="329" y="502.2" font-size="7.0" text-anchor="middle" font-weight="normal" fill="#111" >24</text>
<line x1="341.9" y1="490.9" x2="341.9" y2="493.7" stroke="#111" stroke-width="1.1"/>
<text x="341.9" y="502.2" font-size="7.0" text-anchor="middle" font-weight="normal" fill="#111" >48</text>
<line x1="354.8" y1="490.9" x2="354.8" y2="493.7" stroke="#111" stroke-width="1.1"/>
<text x="354.8" y="502.2" font-size="7.0" text-anchor="middle" font-weight="normal" fill="#111" >72</text>
<text x="361.8" y="502.2" font-size="7.1" text-anchor="start" font-weight="normal" fill="#111" >hours</text>
<text x="335" y="404" font-size="9.3" text-anchor="middle" font-weight="normal" fill="#111" >sh.959</text>
<path d="M316.1 480.65 L329 474.09 L341.9 466.3 L354.8 457.69" fill="none" stroke="#3cee22" stroke-width="1.3"/>
<circle cx="316.1" cy="480.65" r="1.5" fill="#3cee22"/>
<path d="M329 473.47 L329 474.7 M327.4 473.47 L330.6 473.47 M327.4 474.7 L330.6 474.7" stroke="#3cee22" stroke-width="0.9" fill="none"/>
<circle cx="329" cy="474.09" r="1.5" fill="#3cee22"/>
<path d="M341.9 465.48 L341.9 467.12 M340.3 465.48 L343.5 465.48 M340.3 467.12 L343.5 467.12" stroke="#3cee22" stroke-width="0.9" fill="none"/>
<circle cx="341.9" cy="466.3" r="1.5" fill="#3cee22"/>
<path d="M354.8 456.46 L354.8 458.92 M353.2 456.46 L356.4 456.46 M353.2 458.92 L356.4 458.92" stroke="#3cee22" stroke-width="0.9" fill="none"/>
<circle cx="354.8" cy="457.69" r="1.5" fill="#3cee22"/>
<path d="M316.1 480.65 L329 475.52 L341.9 467.73 L354.8 460.15" fill="none" stroke="#0e40c4" stroke-width="1.3"/>
<circle cx="316.1" cy="480.65" r="1.5" fill="#0e40c4"/>
<path d="M329 474.7 L329 476.34 M327.4 474.7 L330.6 474.7 M327.4 476.34 L330.6 476.34" stroke="#0e40c4" stroke-width="0.9" fill="none"/>
<circle cx="329" cy="475.52" r="1.5" fill="#0e40c4"/>
<path d="M341.9 466.91 L341.9 468.55 M340.3 466.91 L343.5 466.91 M340.3 468.55 L343.5 468.55" stroke="#0e40c4" stroke-width="0.9" fill="none"/>
<circle cx="341.9" cy="467.73" r="1.5" fill="#0e40c4"/>
<path d="M354.8 458.51 L354.8 461.79 M353.2 458.51 L356.4 458.51 M353.2 461.79 L356.4 461.79" stroke="#0e40c4" stroke-width="0.9" fill="none"/>
<circle cx="354.8" cy="460.15" r="1.5" fill="#0e40c4"/>
<path d="M316.1 480.65 L329 473.47 L341.9 464.25 L354.8 455.02" fill="none" stroke="#c8101e" stroke-width="1.3"/>
<circle cx="316.1" cy="480.65" r="1.5" fill="#c8101e"/>
<path d="M329 472.65 L329 474.29 M327.4 472.65 L330.6 472.65 M327.4 474.29 L330.6 474.29" stroke="#c8101e" stroke-width="0.9" fill="none"/>
<circle cx="329" cy="473.47" r="1.5" fill="#c8101e"/>
<path d="M341.9 463.23 L341.9 465.27 M340.3 463.23 L343.5 463.23 M340.3 465.27 L343.5 465.27" stroke="#c8101e" stroke-width="0.9" fill="none"/>
<circle cx="341.9" cy="464.25" r="1.5" fill="#c8101e"/>
<path d="M354.8 453.38 L354.8 456.66 M353.2 453.38 L356.4 453.38 M353.2 456.66 L356.4 456.66" stroke="#c8101e" stroke-width="0.9" fill="none"/>
<circle cx="354.8" cy="455.02" r="1.5" fill="#c8101e"/>
<path d="M316.1 480.65 L329 468.35 L341.9 458.1 L354.8 440.67" fill="none" stroke="#2a18a8" stroke-width="1.3"/>
<circle cx="316.1" cy="480.65" r="1.5" fill="#2a18a8"/>
<path d="M329 467.53 L329 469.17 M327.4 467.53 L330.6 467.53 M327.4 469.17 L330.6 469.17" stroke="#2a18a8" stroke-width="0.9" fill="none"/>
<circle cx="329" cy="468.35" r="1.5" fill="#2a18a8"/>
<path d="M341.9 457.28 L341.9 458.92 M340.3 457.28 L343.5 457.28 M340.3 458.92 L343.5 458.92" stroke="#2a18a8" stroke-width="0.9" fill="none"/>
<circle cx="341.9" cy="458.1" r="1.5" fill="#2a18a8"/>
<path d="M354.8 439.85 L354.8 441.49 M353.2 439.85 L356.4 439.85 M353.2 441.49 L356.4 441.49" stroke="#2a18a8" stroke-width="0.9" fill="none"/>
<circle cx="354.8" cy="440.67" r="1.5" fill="#fff" stroke="#2a18a8" stroke-width="1.3"/>
<text x="0" y="0" font-size="8.4" font-weight="normal" text-anchor="middle" fill="#111" stroke="#111" stroke-width="0.2" transform="translate(17.8 446.3) rotate(-90) scale(0.7741 1)">Proliferation (×10<tspan font-size="5.4" dy="-3.0">5</tspan><tspan dy="3.0"> cells)</tspan></text>
<text x="0" y="0" font-size="8.4" font-weight="normal" text-anchor="middle" fill="#111" stroke="#111" stroke-width="0.2" transform="translate(30.4 446.3) rotate(-90) scale(0.7274 1)">RS4;11 cell line</text>
<text x="0" y="0" font-size="8.4" font-weight="normal" text-anchor="middle" fill="#111" stroke="#111" stroke-width="0.2" transform="translate(205.4 446.3) rotate(-90) scale(0.7741 1)">Proliferation (×10<tspan font-size="5.4" dy="-3.0">5</tspan><tspan dy="3.0"> cells)</tspan></text>
<text x="0" y="0" font-size="8.4" font-weight="normal" text-anchor="middle" fill="#111" stroke="#111" stroke-width="0.2" transform="translate(215.8 446.3) rotate(-90) scale(0.7892 1)">Jurkat cell line</text>
<line x1="367.6" y1="402.1" x2="373.4" y2="402.1" stroke="#c8101e" stroke-width="1.2"/>
<circle cx="370.5" cy="402.1" r="1.8" fill="#c8101e"/>
<text x="375.9" y="404.7" font-size="7" text-anchor="start" font-weight="normal" fill="#111" >Control</text>
<line x1="367.6" y1="412.4" x2="373.4" y2="412.4" stroke="#0e40c4" stroke-width="1.2"/>
<circle cx="370.5" cy="412.4" r="1.8" fill="#0e40c4"/>
<text x="375.9" y="415" font-size="7" text-anchor="start" font-weight="normal" fill="#111" >Insulin</text>
<line x1="367.6" y1="422.7" x2="373.4" y2="422.7" stroke="#3cee22" stroke-width="1.2"/>
<circle cx="370.5" cy="422.7" r="1.8" fill="#3cee22"/>
<text x="375.9" y="425.3" font-size="7" text-anchor="start" font-weight="normal" fill="#111" >DC</text>
<line x1="367.6" y1="433" x2="373.4" y2="433" stroke="#2a18a8" stroke-width="1.2"/>
<circle cx="370.5" cy="433" r="1.8" fill="#2a18a8"/>
<text x="375.9" y="435.6" font-size="7" text-anchor="start" font-weight="normal" fill="#111" >Insulin + DC</text>
<rect x="0.73" y="0.73" width="518.54" height="505.54" fill="none" stroke="#000" stroke-width="1.46"/>
</svg>
</body></html>
